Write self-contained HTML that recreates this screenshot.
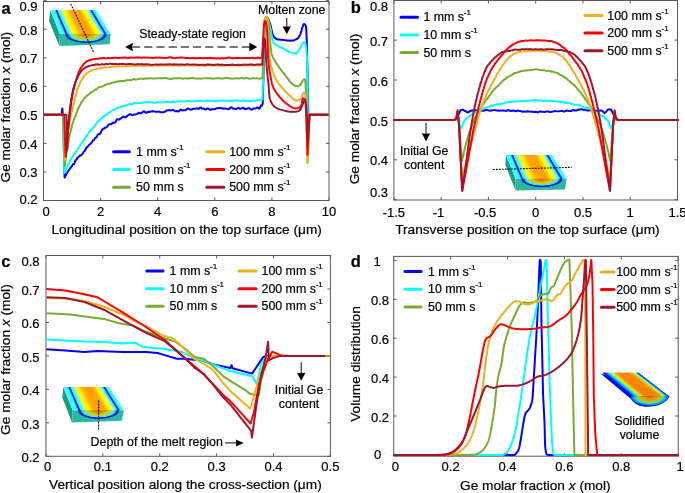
<!DOCTYPE html>
<html><head><meta charset="utf-8"><style>
html,body{margin:0;padding:0;background:#fff;}
svg{display:block;font-family:"Liberation Sans", sans-serif;will-change:transform;}
text{fill:#000;stroke:#000;stroke-width:0.2px;}
</style></head><body>
<svg width="685" height="493" viewBox="0 0 685 493">
<defs><radialGradient id="pa" gradientUnits="userSpaceOnUse" cx="86.05000000000001" cy="33.996640316205536" r="20.85" gradientTransform="translate(86.05000000000001 33.996640316205536) scale(1 0.4462043013810293) translate(-86.05000000000001 -33.996640316205536)">
<stop offset="0" stop-color="#c06a00"/><stop offset="0.28" stop-color="#e09000"/><stop offset="0.48" stop-color="#d8c810"/><stop offset="0.62" stop-color="#a0e040"/><stop offset="0.72" stop-color="#40f0d0"/><stop offset="0.8" stop-color="#20d8ff"/><stop offset="0.87" stop-color="#0040ff"/><stop offset="0.93" stop-color="#0000e0"/><stop offset="1" stop-color="#0000c0"/></radialGradient><radialGradient id="pb" gradientUnits="userSpaceOnUse" cx="541.8" cy="178.7" r="20.69999999999999" gradientTransform="translate(541.8 178.7) scale(1 0.4202898550724648) translate(-541.8 -178.7)">
<stop offset="0" stop-color="#c06a00"/><stop offset="0.28" stop-color="#e09000"/><stop offset="0.48" stop-color="#d8c810"/><stop offset="0.62" stop-color="#a0e040"/><stop offset="0.72" stop-color="#40f0d0"/><stop offset="0.8" stop-color="#20d8ff"/><stop offset="0.87" stop-color="#0040ff"/><stop offset="0.93" stop-color="#0000e0"/><stop offset="1" stop-color="#0000c0"/></radialGradient><radialGradient id="pc" gradientUnits="userSpaceOnUse" cx="98.55" cy="410.3" r="20.75" gradientTransform="translate(98.55 410.3) scale(1 0.4289156626506013) translate(-98.55 -410.3)">
<stop offset="0" stop-color="#c06a00"/><stop offset="0.28" stop-color="#e09000"/><stop offset="0.48" stop-color="#d8c810"/><stop offset="0.62" stop-color="#a0e040"/><stop offset="0.72" stop-color="#40f0d0"/><stop offset="0.8" stop-color="#20d8ff"/><stop offset="0.87" stop-color="#0040ff"/><stop offset="0.93" stop-color="#0000e0"/><stop offset="1" stop-color="#0000c0"/></radialGradient><radialGradient id="pd" gradientUnits="userSpaceOnUse" cx="649.5" cy="396.3" r="19.5" gradientTransform="translate(649.5 396.3) scale(1 0.5) translate(-649.5 -396.3)">
<stop offset="0" stop-color="#d06000"/><stop offset="0.3" stop-color="#f09000"/><stop offset="0.55" stop-color="#c0c020"/><stop offset="0.72" stop-color="#40e0a0"/><stop offset="0.85" stop-color="#00a0ff"/><stop offset="1" stop-color="#0020e0"/></radialGradient></defs>
<rect width="685" height="493" fill="#fff"/>
<line x1="393.7" y1="456.2" x2="393.7" y2="453.2" stroke="#5a5a5a" stroke-width="1"/>
<line x1="393.7" y1="256.4" x2="393.7" y2="259.4" stroke="#5a5a5a" stroke-width="1"/>
<line x1="450.6" y1="456.2" x2="450.6" y2="453.2" stroke="#5a5a5a" stroke-width="1"/>
<line x1="450.6" y1="256.4" x2="450.6" y2="259.4" stroke="#5a5a5a" stroke-width="1"/>
<line x1="507.5" y1="456.2" x2="507.5" y2="453.2" stroke="#5a5a5a" stroke-width="1"/>
<line x1="507.5" y1="256.4" x2="507.5" y2="259.4" stroke="#5a5a5a" stroke-width="1"/>
<line x1="564.4" y1="456.2" x2="564.4" y2="453.2" stroke="#5a5a5a" stroke-width="1"/>
<line x1="564.4" y1="256.4" x2="564.4" y2="259.4" stroke="#5a5a5a" stroke-width="1"/>
<line x1="621.3" y1="456.2" x2="621.3" y2="453.2" stroke="#5a5a5a" stroke-width="1"/>
<line x1="621.3" y1="256.4" x2="621.3" y2="259.4" stroke="#5a5a5a" stroke-width="1"/>
<line x1="678.2" y1="456.2" x2="678.2" y2="453.2" stroke="#5a5a5a" stroke-width="1"/>
<line x1="678.2" y1="256.4" x2="678.2" y2="259.4" stroke="#5a5a5a" stroke-width="1"/>
<line x1="393.7" y1="454.9" x2="396.7" y2="454.9" stroke="#5a5a5a" stroke-width="1"/>
<line x1="678.2" y1="454.9" x2="675.2" y2="454.9" stroke="#5a5a5a" stroke-width="1"/>
<line x1="393.7" y1="416.0" x2="396.7" y2="416.0" stroke="#5a5a5a" stroke-width="1"/>
<line x1="678.2" y1="416.0" x2="675.2" y2="416.0" stroke="#5a5a5a" stroke-width="1"/>
<line x1="393.7" y1="377.09999999999997" x2="396.7" y2="377.09999999999997" stroke="#5a5a5a" stroke-width="1"/>
<line x1="678.2" y1="377.09999999999997" x2="675.2" y2="377.09999999999997" stroke="#5a5a5a" stroke-width="1"/>
<line x1="393.7" y1="338.2" x2="396.7" y2="338.2" stroke="#5a5a5a" stroke-width="1"/>
<line x1="678.2" y1="338.2" x2="675.2" y2="338.2" stroke="#5a5a5a" stroke-width="1"/>
<line x1="393.7" y1="299.29999999999995" x2="396.7" y2="299.29999999999995" stroke="#5a5a5a" stroke-width="1"/>
<line x1="678.2" y1="299.29999999999995" x2="675.2" y2="299.29999999999995" stroke="#5a5a5a" stroke-width="1"/>
<line x1="393.7" y1="260.4" x2="396.7" y2="260.4" stroke="#5a5a5a" stroke-width="1"/>
<line x1="678.2" y1="260.4" x2="675.2" y2="260.4" stroke="#5a5a5a" stroke-width="1"/>
<rect x="393.7" y="256.4" width="284.50000000000006" height="199.8" fill="none" stroke="#5a5a5a" stroke-width="1"/>
<line x1="46.0" y1="456.3" x2="46.0" y2="453.3" stroke="#5a5a5a" stroke-width="1"/>
<line x1="46.0" y1="255.5" x2="46.0" y2="258.5" stroke="#5a5a5a" stroke-width="1"/>
<line x1="102.88" y1="456.3" x2="102.88" y2="453.3" stroke="#5a5a5a" stroke-width="1"/>
<line x1="102.88" y1="255.5" x2="102.88" y2="258.5" stroke="#5a5a5a" stroke-width="1"/>
<line x1="159.76" y1="456.3" x2="159.76" y2="453.3" stroke="#5a5a5a" stroke-width="1"/>
<line x1="159.76" y1="255.5" x2="159.76" y2="258.5" stroke="#5a5a5a" stroke-width="1"/>
<line x1="216.64" y1="456.3" x2="216.64" y2="453.3" stroke="#5a5a5a" stroke-width="1"/>
<line x1="216.64" y1="255.5" x2="216.64" y2="258.5" stroke="#5a5a5a" stroke-width="1"/>
<line x1="273.52" y1="456.3" x2="273.52" y2="453.3" stroke="#5a5a5a" stroke-width="1"/>
<line x1="273.52" y1="255.5" x2="273.52" y2="258.5" stroke="#5a5a5a" stroke-width="1"/>
<line x1="330.4" y1="456.3" x2="330.4" y2="453.3" stroke="#5a5a5a" stroke-width="1"/>
<line x1="330.4" y1="255.5" x2="330.4" y2="258.5" stroke="#5a5a5a" stroke-width="1"/>
<line x1="46.0" y1="456.3" x2="49.0" y2="456.3" stroke="#5a5a5a" stroke-width="1"/>
<line x1="330.4" y1="456.3" x2="327.4" y2="456.3" stroke="#5a5a5a" stroke-width="1"/>
<line x1="46.0" y1="422.833" x2="49.0" y2="422.833" stroke="#5a5a5a" stroke-width="1"/>
<line x1="330.4" y1="422.833" x2="327.4" y2="422.833" stroke="#5a5a5a" stroke-width="1"/>
<line x1="46.0" y1="389.366" x2="49.0" y2="389.366" stroke="#5a5a5a" stroke-width="1"/>
<line x1="330.4" y1="389.366" x2="327.4" y2="389.366" stroke="#5a5a5a" stroke-width="1"/>
<line x1="46.0" y1="355.899" x2="49.0" y2="355.899" stroke="#5a5a5a" stroke-width="1"/>
<line x1="330.4" y1="355.899" x2="327.4" y2="355.899" stroke="#5a5a5a" stroke-width="1"/>
<line x1="46.0" y1="322.432" x2="49.0" y2="322.432" stroke="#5a5a5a" stroke-width="1"/>
<line x1="330.4" y1="322.432" x2="327.4" y2="322.432" stroke="#5a5a5a" stroke-width="1"/>
<line x1="46.0" y1="288.96500000000003" x2="49.0" y2="288.96500000000003" stroke="#5a5a5a" stroke-width="1"/>
<line x1="330.4" y1="288.96500000000003" x2="327.4" y2="288.96500000000003" stroke="#5a5a5a" stroke-width="1"/>
<line x1="46.0" y1="255.49799999999996" x2="49.0" y2="255.49799999999996" stroke="#5a5a5a" stroke-width="1"/>
<line x1="330.4" y1="255.49799999999996" x2="327.4" y2="255.49799999999996" stroke="#5a5a5a" stroke-width="1"/>
<rect x="46.0" y="255.5" width="284.4" height="200.8" fill="none" stroke="#5a5a5a" stroke-width="1"/>
<line x1="393.9" y1="200.0" x2="393.9" y2="197.0" stroke="#5a5a5a" stroke-width="1"/>
<line x1="393.9" y1="0.5" x2="393.9" y2="3.5" stroke="#5a5a5a" stroke-width="1"/>
<line x1="441.16499999999996" y1="200.0" x2="441.16499999999996" y2="197.0" stroke="#5a5a5a" stroke-width="1"/>
<line x1="441.16499999999996" y1="0.5" x2="441.16499999999996" y2="3.5" stroke="#5a5a5a" stroke-width="1"/>
<line x1="488.42999999999995" y1="200.0" x2="488.42999999999995" y2="197.0" stroke="#5a5a5a" stroke-width="1"/>
<line x1="488.42999999999995" y1="0.5" x2="488.42999999999995" y2="3.5" stroke="#5a5a5a" stroke-width="1"/>
<line x1="535.6949999999999" y1="200.0" x2="535.6949999999999" y2="197.0" stroke="#5a5a5a" stroke-width="1"/>
<line x1="535.6949999999999" y1="0.5" x2="535.6949999999999" y2="3.5" stroke="#5a5a5a" stroke-width="1"/>
<line x1="582.96" y1="200.0" x2="582.96" y2="197.0" stroke="#5a5a5a" stroke-width="1"/>
<line x1="582.96" y1="0.5" x2="582.96" y2="3.5" stroke="#5a5a5a" stroke-width="1"/>
<line x1="630.2249999999999" y1="200.0" x2="630.2249999999999" y2="197.0" stroke="#5a5a5a" stroke-width="1"/>
<line x1="630.2249999999999" y1="0.5" x2="630.2249999999999" y2="3.5" stroke="#5a5a5a" stroke-width="1"/>
<line x1="677.49" y1="200.0" x2="677.49" y2="197.0" stroke="#5a5a5a" stroke-width="1"/>
<line x1="677.49" y1="0.5" x2="677.49" y2="3.5" stroke="#5a5a5a" stroke-width="1"/>
<line x1="393.9" y1="199.70000000000002" x2="396.9" y2="199.70000000000002" stroke="#5a5a5a" stroke-width="1"/>
<line x1="677.5" y1="199.70000000000002" x2="674.5" y2="199.70000000000002" stroke="#5a5a5a" stroke-width="1"/>
<line x1="393.9" y1="159.8" x2="396.9" y2="159.8" stroke="#5a5a5a" stroke-width="1"/>
<line x1="677.5" y1="159.8" x2="674.5" y2="159.8" stroke="#5a5a5a" stroke-width="1"/>
<line x1="393.9" y1="119.9" x2="396.9" y2="119.9" stroke="#5a5a5a" stroke-width="1"/>
<line x1="677.5" y1="119.9" x2="674.5" y2="119.9" stroke="#5a5a5a" stroke-width="1"/>
<line x1="393.9" y1="80.00000000000001" x2="396.9" y2="80.00000000000001" stroke="#5a5a5a" stroke-width="1"/>
<line x1="677.5" y1="80.00000000000001" x2="674.5" y2="80.00000000000001" stroke="#5a5a5a" stroke-width="1"/>
<line x1="393.9" y1="40.10000000000002" x2="396.9" y2="40.10000000000002" stroke="#5a5a5a" stroke-width="1"/>
<line x1="677.5" y1="40.10000000000002" x2="674.5" y2="40.10000000000002" stroke="#5a5a5a" stroke-width="1"/>
<line x1="393.9" y1="0.19999999999998863" x2="396.9" y2="0.19999999999998863" stroke="#5a5a5a" stroke-width="1"/>
<line x1="677.5" y1="0.19999999999998863" x2="674.5" y2="0.19999999999998863" stroke="#5a5a5a" stroke-width="1"/>
<rect x="393.9" y="0.5" width="283.6" height="199.5" fill="none" stroke="#5a5a5a" stroke-width="1"/>
<line x1="43.5" y1="200.5" x2="43.5" y2="197.5" stroke="#5a5a5a" stroke-width="1"/>
<line x1="43.5" y1="1.5" x2="43.5" y2="4.5" stroke="#5a5a5a" stroke-width="1"/>
<line x1="100.6" y1="200.5" x2="100.6" y2="197.5" stroke="#5a5a5a" stroke-width="1"/>
<line x1="100.6" y1="1.5" x2="100.6" y2="4.5" stroke="#5a5a5a" stroke-width="1"/>
<line x1="157.7" y1="200.5" x2="157.7" y2="197.5" stroke="#5a5a5a" stroke-width="1"/>
<line x1="157.7" y1="1.5" x2="157.7" y2="4.5" stroke="#5a5a5a" stroke-width="1"/>
<line x1="214.8" y1="200.5" x2="214.8" y2="197.5" stroke="#5a5a5a" stroke-width="1"/>
<line x1="214.8" y1="1.5" x2="214.8" y2="4.5" stroke="#5a5a5a" stroke-width="1"/>
<line x1="271.9" y1="200.5" x2="271.9" y2="197.5" stroke="#5a5a5a" stroke-width="1"/>
<line x1="271.9" y1="1.5" x2="271.9" y2="4.5" stroke="#5a5a5a" stroke-width="1"/>
<line x1="329.0" y1="200.5" x2="329.0" y2="197.5" stroke="#5a5a5a" stroke-width="1"/>
<line x1="329.0" y1="1.5" x2="329.0" y2="4.5" stroke="#5a5a5a" stroke-width="1"/>
<line x1="43.5" y1="200.5" x2="46.5" y2="200.5" stroke="#5a5a5a" stroke-width="1"/>
<line x1="329.0" y1="200.5" x2="326.0" y2="200.5" stroke="#5a5a5a" stroke-width="1"/>
<line x1="43.5" y1="171.95000000000002" x2="46.5" y2="171.95000000000002" stroke="#5a5a5a" stroke-width="1"/>
<line x1="329.0" y1="171.95000000000002" x2="326.0" y2="171.95000000000002" stroke="#5a5a5a" stroke-width="1"/>
<line x1="43.5" y1="143.4" x2="46.5" y2="143.4" stroke="#5a5a5a" stroke-width="1"/>
<line x1="329.0" y1="143.4" x2="326.0" y2="143.4" stroke="#5a5a5a" stroke-width="1"/>
<line x1="43.5" y1="114.85000000000001" x2="46.5" y2="114.85000000000001" stroke="#5a5a5a" stroke-width="1"/>
<line x1="329.0" y1="114.85000000000001" x2="326.0" y2="114.85000000000001" stroke="#5a5a5a" stroke-width="1"/>
<line x1="43.5" y1="86.30000000000001" x2="46.5" y2="86.30000000000001" stroke="#5a5a5a" stroke-width="1"/>
<line x1="329.0" y1="86.30000000000001" x2="326.0" y2="86.30000000000001" stroke="#5a5a5a" stroke-width="1"/>
<line x1="43.5" y1="57.75000000000003" x2="46.5" y2="57.75000000000003" stroke="#5a5a5a" stroke-width="1"/>
<line x1="329.0" y1="57.75000000000003" x2="326.0" y2="57.75000000000003" stroke="#5a5a5a" stroke-width="1"/>
<line x1="43.5" y1="29.19999999999999" x2="46.5" y2="29.19999999999999" stroke="#5a5a5a" stroke-width="1"/>
<line x1="329.0" y1="29.19999999999999" x2="326.0" y2="29.19999999999999" stroke="#5a5a5a" stroke-width="1"/>
<line x1="43.5" y1="0.6500000000000057" x2="46.5" y2="0.6500000000000057" stroke="#5a5a5a" stroke-width="1"/>
<line x1="329.0" y1="0.6500000000000057" x2="326.0" y2="0.6500000000000057" stroke="#5a5a5a" stroke-width="1"/>
<rect x="43.5" y="1.5" width="285.5" height="199.0" fill="none" stroke="#5a5a5a" stroke-width="1"/>
<text x="1.5" y="13.5" font-size="16.5" text-anchor="start" font-weight="bold" >a</text>
<polyline points="43.50,114.85 61.60,114.85 62.30,108.40 63.00,116.85 64.60,177.50 64.60,177.50 65.07,176.64 65.53,175.78 65.97,174.93 66.43,174.08 66.91,173.21 67.43,172.32 68.00,171.40 68.45,170.70 68.94,169.98 69.45,169.24 69.98,168.48 70.53,167.75 71.09,167.08 71.67,166.50 72.24,165.50 72.82,164.51 73.39,164.29 73.95,164.18 74.50,163.12 75.08,161.34 75.65,160.12 76.22,159.79 76.78,159.04 77.35,157.90 77.92,157.45 78.51,156.92 79.12,156.27 79.74,155.83 80.40,155.41 80.97,155.32 81.55,154.83 82.16,154.07 82.78,153.28 83.41,152.14 84.06,151.52 84.72,151.07 85.38,149.81 86.05,148.35 86.72,147.37 87.39,146.93 88.07,146.28 88.73,145.24 89.40,144.56 90.05,144.17 90.70,143.68 91.34,142.96 91.97,141.90 92.60,140.77 93.22,140.20 93.85,140.15 94.47,139.23 95.09,137.91 95.72,137.76 96.34,137.43 96.98,136.19 97.61,134.87 98.25,134.14 98.90,134.28 99.56,134.22 100.22,133.47 100.90,132.30 101.65,130.64 102.41,129.28 103.17,129.04 103.95,128.60 104.73,127.65 105.52,127.47 106.31,127.45 107.11,126.60 107.91,125.35 108.71,124.69 109.51,124.24 110.30,124.15 111.10,124.35 111.94,123.62 112.78,122.77 113.62,122.59 114.46,122.75 115.30,122.36 116.15,120.71 117.00,119.16 117.85,119.23 118.70,119.71 119.56,119.16 120.43,118.60 121.30,118.23 122.21,117.05 123.12,116.64 124.04,117.05 124.96,117.19 125.89,117.21 126.83,116.33 127.76,115.27 128.69,114.78 129.63,114.20 130.57,114.18 131.50,114.84 132.42,115.25 133.34,114.86 134.27,114.41 135.19,114.42 136.12,114.32 137.05,114.07 137.98,113.28 138.90,112.71 139.84,113.17 140.77,113.45 141.70,112.89 142.63,112.00 143.57,111.33 144.50,111.51 145.44,112.50 146.38,112.87 147.31,112.14 148.25,111.84 149.19,112.00 150.13,111.51 151.07,111.54 152.00,111.57 152.93,111.06 153.86,111.36 154.79,111.64 155.71,111.63 156.64,111.71 157.57,111.86 158.49,111.75 159.42,111.63 160.35,112.12 161.27,112.29 162.20,112.19 163.13,112.24 164.05,112.10 164.98,111.80 165.91,111.01 166.84,110.35 167.76,110.42 168.69,110.22 169.62,110.11 170.55,110.54 171.47,110.38 172.40,109.88 173.32,110.03 174.22,110.64 175.11,111.18 176.00,111.28 176.88,111.04 177.78,111.25 178.69,111.56 179.62,110.56 180.58,109.56 181.57,110.18 182.60,110.58 183.45,110.33 184.30,110.26 185.18,110.18 186.06,109.91 186.97,109.10 187.88,108.54 188.81,108.81 189.76,109.32 190.72,109.67 191.69,109.49 192.68,109.03 193.68,108.68 194.69,108.68 195.73,108.59 196.77,108.37 197.83,108.74 198.91,108.67 200.00,107.68 200.85,107.50 201.71,108.43 202.59,108.67 203.49,108.40 204.41,108.98 205.34,109.60 206.28,109.20 207.23,108.39 208.20,108.41 209.17,109.39 210.15,109.84 211.15,109.47 212.14,109.20 213.15,109.24 214.16,109.24 215.17,109.03 216.18,108.37 217.20,108.14 218.21,108.32 219.23,107.89 220.24,108.00 221.25,108.23 222.25,108.23 223.25,108.64 224.24,108.58 225.23,108.50 226.20,108.66 227.17,108.86 228.13,109.28 229.07,109.01 230.00,107.96 231.01,107.17 232.04,107.72 233.08,108.80 234.14,108.78 235.20,108.87 236.26,109.06 237.33,108.27 238.40,107.93 239.47,108.44 240.53,108.71 241.59,108.38 242.64,107.86 243.67,107.97 244.69,108.92 245.70,109.22 246.69,108.76 247.65,108.39 248.60,108.01 249.51,108.50 250.40,109.29 251.26,109.64 252.08,109.59 252.87,108.87 253.62,108.52 254.33,108.58 255.00,108.53 256.21,108.10 257.34,107.41 258.39,107.88 259.33,108.73 260.17,107.35 260.90,105.56 261.50,105.47 262.03,105.58 262.33,104.75 262.54,103.86 262.80,103.00 262.80,103.00 264.80,22.00 264.80,22.00 265.12,21.01 265.42,19.94 265.75,19.03 266.20,18.50 267.08,18.48 268.00,19.01 268.44,19.55 268.82,20.32 269.18,21.14 269.52,22.07 269.85,23.24 270.20,24.44 270.45,25.16 270.68,25.78 270.91,26.61 271.13,27.71 271.35,28.73 271.57,29.66 271.80,30.75 272.04,31.80 272.29,32.78 272.57,33.75 272.87,34.65 273.20,35.50 273.72,36.46 274.26,37.25 274.85,37.92 275.51,38.42 276.30,38.96 277.01,39.35 277.81,39.46 278.68,39.46 279.59,39.52 280.54,39.69 281.50,39.79 282.46,39.79 283.40,39.90 284.29,40.10 285.21,40.28 286.15,40.39 287.09,40.42 288.03,40.42 288.96,40.53 289.85,40.75 290.70,40.71 291.50,40.53 292.53,40.56 293.49,40.50 294.41,40.15 295.27,39.69 296.10,39.27 296.79,39.03 297.44,38.67 298.06,38.06 298.65,37.27 299.19,36.31 299.70,35.37 300.11,34.68 300.48,33.84 300.80,32.80 301.09,31.91 301.37,31.04 301.64,29.99 301.91,28.89 302.20,28.02 302.56,27.00 302.89,26.02 303.23,25.22 303.60,24.43 304.00,23.99 304.77,24.29 305.50,25.26 305.73,25.79 305.90,26.27 306.04,26.84 306.14,27.67 306.22,28.58 306.28,29.56 306.32,30.60 306.35,31.68 306.39,32.78 306.44,33.89 306.50,35.00 306.55,35.79 306.59,36.61 306.64,37.45 306.68,38.31 306.71,39.21 306.75,40.12 306.78,41.05 306.81,42.00 306.84,42.97 306.87,43.95 306.90,44.95 306.92,45.96 306.95,46.99 306.97,48.02 306.99,49.06 307.02,50.11 307.04,51.17 307.06,52.23 307.08,53.29 307.10,54.36 307.13,55.42 307.15,56.48 307.17,57.54 307.20,58.60 307.22,59.52 307.24,60.44 307.26,61.37 307.29,62.31 307.31,63.26 307.33,64.21 307.35,65.17 307.37,66.14 307.38,67.11 307.40,68.08 307.42,69.06 307.44,70.05 307.46,71.04 307.48,72.03 307.50,73.02 307.51,74.02 307.53,75.02 307.55,76.02 307.57,77.02 307.58,78.03 307.60,79.03 307.62,80.04 307.64,81.04 307.66,82.05 307.67,83.05 307.69,84.05 307.71,85.05 307.73,86.04 307.74,87.04 307.76,88.03 307.78,89.02 307.80,90.00 307.80,90.00 308.30,114.85 328.50,114.85" fill="none" stroke="#0000ff" stroke-width="2.0" stroke-linejoin="round" stroke-linecap="butt" />
<polyline points="43.50,114.85 62.80,114.85 64.40,173.00 64.40,173.00 64.81,172.11 65.20,171.22 65.59,170.34 65.98,169.45 66.36,168.57 66.74,167.68 67.13,166.80 67.52,165.91 67.92,165.02 68.34,164.13 68.77,163.23 69.23,162.33 69.70,161.42 70.20,160.50 70.65,159.71 71.12,158.91 71.60,158.11 72.10,157.29 72.61,156.48 73.13,155.66 73.67,154.84 74.22,154.01 74.77,153.19 75.33,152.53 75.89,151.79 76.46,150.73 77.03,149.73 77.60,149.16 78.17,148.38 78.73,147.41 79.29,146.72 79.85,145.98 80.40,145.11 80.96,144.28 81.53,143.39 82.09,142.40 82.65,141.52 83.22,140.80 83.78,140.12 84.35,139.25 84.92,138.24 85.49,137.33 86.06,136.61 86.63,135.89 87.20,135.23 87.78,134.72 88.36,133.63 88.94,132.07 89.52,131.26 90.11,130.95 90.70,130.41 91.32,129.75 91.94,129.26 92.56,128.56 93.18,127.36 93.81,126.68 94.44,126.40 95.07,125.61 95.70,124.60 96.33,123.48 96.97,122.58 97.62,122.16 98.26,121.51 98.92,120.59 99.57,119.97 100.23,119.43 100.90,118.77 101.65,118.20 102.41,117.66 103.18,116.95 103.95,116.30 104.73,115.90 105.51,115.41 106.30,114.60 107.09,113.87 107.88,113.39 108.68,112.90 109.48,112.33 110.29,111.75 111.10,111.38 111.93,110.77 112.76,110.03 113.60,109.70 114.44,109.48 115.29,109.02 116.14,108.35 116.99,107.95 117.85,107.79 118.71,107.52 119.57,107.32 120.44,106.92 121.30,106.34 122.21,106.30 123.13,106.27 124.06,105.70 124.98,105.33 125.91,105.33 126.84,105.24 127.77,104.97 128.70,104.43 129.63,103.99 130.57,103.94 131.50,103.97 132.41,103.97 133.30,103.61 134.18,103.03 135.05,103.01 135.93,103.37 136.81,103.28 137.72,102.92 138.66,102.86 139.63,102.93 140.64,102.94 141.70,102.88 142.52,102.69 143.37,102.48 144.25,102.51 145.16,102.38 146.09,102.00 147.04,102.11 148.01,102.20 148.99,102.09 149.99,102.20 151.00,102.35 152.02,102.47 153.04,102.50 154.07,102.64 155.11,102.76 156.14,102.49 157.17,102.04 158.19,102.12 159.21,102.56 160.22,102.43 161.22,102.17 162.20,102.23 163.17,102.34 164.15,102.42 165.13,102.31 166.11,102.10 167.10,102.03 168.08,102.01 169.06,101.96 170.05,102.22 171.03,102.22 172.01,101.49 172.99,101.24 173.97,102.00 174.95,102.34 175.92,101.69 176.89,101.40 177.86,101.58 178.82,101.46 179.77,101.36 180.72,101.49 181.66,101.57 182.60,101.50 183.59,101.46 184.57,101.33 185.53,101.15 186.47,101.10 187.40,101.09 188.33,101.08 189.25,100.90 190.17,101.04 191.09,101.42 192.02,101.34 192.95,101.21 193.90,101.20 194.86,101.05 195.84,101.04 196.84,101.17 197.87,101.02 198.92,100.89 200.00,100.99 200.85,100.83 201.71,100.56 202.59,100.59 203.49,100.93 204.41,101.12 205.34,100.85 206.28,100.56 207.23,100.43 208.20,100.74 209.17,101.04 210.16,100.83 211.15,100.70 212.15,100.90 213.15,101.08 214.16,101.27 215.17,101.35 216.18,101.00 217.20,100.67 218.21,100.68 219.23,100.76 220.24,100.78 221.25,100.79 222.25,100.60 223.25,100.48 224.24,100.67 225.23,100.56 226.20,100.47 227.17,100.88 228.13,101.14 229.07,100.98 230.00,100.69 231.01,100.83 232.04,101.33 233.07,101.09 234.12,100.45 235.17,100.41 236.23,100.47 237.28,100.40 238.34,100.55 239.40,100.80 240.45,101.09 241.50,100.82 242.53,100.29 243.56,100.32 244.57,100.57 245.57,100.89 246.56,101.03 247.52,100.83 248.46,100.83 249.38,101.32 250.28,101.33 251.15,100.80 251.98,100.64 252.79,100.61 253.56,100.46 254.30,100.57 255.00,100.77 256.15,100.46 257.19,100.26 258.14,100.25 259.03,99.98 259.88,99.76 260.73,99.62 261.59,99.55 262.50,99.50 262.50,99.00 264.80,22.00 264.80,22.00 265.13,20.98 265.44,19.87 265.78,18.95 266.20,18.50 266.77,18.65 267.41,19.23 268.00,20.00 268.34,20.61 268.65,21.35 268.92,22.19 269.19,23.12 269.44,24.12 269.68,25.16 269.94,26.23 270.20,27.30 270.39,28.13 270.58,29.03 270.75,30.00 270.92,31.01 271.09,32.06 271.25,33.13 271.42,34.20 271.59,35.28 271.78,36.33 271.97,37.35 272.18,38.32 272.40,39.24 272.64,40.08 272.91,40.84 273.20,41.50 273.72,42.42 274.27,43.17 274.87,43.80 275.53,44.39 276.30,45.00 277.02,45.50 277.82,45.97 278.69,46.42 279.60,46.86 280.55,47.29 281.51,47.72 282.47,48.15 283.40,48.60 284.20,49.01 285.02,49.45 285.85,49.90 286.69,50.36 287.54,50.82 288.37,51.26 289.20,51.67 290.00,52.03 290.77,52.35 291.50,52.60 292.50,52.91 293.47,53.18 294.40,53.36 295.28,53.39 296.10,53.20 296.80,52.79 297.45,52.18 298.06,51.42 298.64,50.57 299.18,49.71 299.70,48.90 300.18,48.09 300.61,47.23 301.01,46.35 301.40,45.49 301.79,44.69 302.20,44.00 302.81,43.05 303.42,42.24 304.00,41.90 304.54,42.23 305.06,43.02 305.50,44.00 305.71,44.64 305.87,45.39 306.00,46.23 306.11,47.13 306.20,48.08 306.27,49.06 306.34,50.06 306.42,51.04 306.50,52.00 306.58,52.87 306.65,53.75 306.72,54.65 306.79,55.55 306.85,56.47 306.91,57.39 306.96,58.32 307.02,59.24 307.08,60.17 307.14,61.09 307.20,62.00 307.20,62.00 307.80,114.85 328.50,114.85" fill="none" stroke="#00ffff" stroke-width="2.0" stroke-linejoin="round" stroke-linecap="butt" />
<polyline points="43.50,114.85 63.30,114.85 64.70,165.50 64.70,165.50 64.84,164.53 64.98,163.56 65.12,162.60 65.26,161.63 65.40,160.66 65.53,159.70 65.67,158.73 65.81,157.76 65.95,156.79 66.09,155.83 66.23,154.86 66.38,153.89 66.53,152.92 66.68,151.95 66.84,150.97 67.00,150.00 67.16,149.06 67.32,148.11 67.48,147.15 67.65,146.18 67.82,145.21 67.99,144.24 68.17,143.27 68.35,142.30 68.52,141.34 68.70,140.38 68.89,139.43 69.07,138.49 69.25,137.56 69.44,136.64 69.63,135.74 69.81,134.86 70.00,134.00 70.22,133.00 70.44,132.02 70.66,131.05 70.89,130.10 71.11,129.17 71.34,128.25 71.57,127.34 71.80,126.45 72.04,125.57 72.29,124.70 72.54,123.84 72.80,123.00 73.11,122.04 73.44,121.10 73.78,120.18 74.13,119.27 74.48,118.38 74.82,117.51 75.16,116.66 75.49,115.82 75.80,115.00 76.11,114.14 76.40,113.30 76.68,112.49 76.96,111.69 77.25,110.90 77.56,110.11 77.90,109.30 78.29,108.43 78.71,107.56 79.15,106.68 79.61,105.80 80.07,104.93 80.54,103.98 81.00,102.92 81.48,102.13 81.94,101.91 82.42,101.28 82.91,100.28 83.43,99.57 84.00,98.78 84.64,98.00 85.33,97.40 86.05,96.63 86.79,95.80 87.54,95.19 88.30,94.70 88.96,94.24 89.62,93.66 90.30,93.05 90.98,92.46 91.68,92.00 92.38,91.68 93.10,91.25 93.85,90.74 94.60,90.15 95.37,89.59 96.15,89.48 96.95,89.10 97.76,88.04 98.60,87.24 99.44,87.09 100.32,87.10 101.22,86.87 102.14,86.55 103.05,86.13 103.96,85.62 104.85,85.19 105.70,84.88 106.62,84.51 107.49,83.98 108.34,83.72 109.21,83.82 110.12,83.68 111.10,83.02 111.91,82.53 112.76,82.53 113.64,82.54 114.55,82.38 115.48,82.03 116.43,81.62 117.39,81.69 118.35,81.52 119.33,81.00 120.30,81.01 121.20,81.14 122.11,81.00 123.05,81.11 124.00,81.18 124.96,80.77 125.92,80.33 126.88,80.26 127.84,80.35 128.78,80.25 129.71,80.11 130.62,80.12 131.50,80.01 132.47,79.57 133.37,79.08 134.23,79.08 135.07,79.45 135.93,79.59 136.82,79.47 137.78,79.10 138.83,78.80 140.00,78.81 140.69,78.66 141.40,78.36 142.15,78.54 142.92,78.93 143.71,78.88 144.53,78.66 145.38,78.46 146.25,78.44 147.14,78.60 148.05,78.47 148.98,78.29 149.93,78.26 150.89,78.27 151.87,78.50 152.87,78.59 153.88,78.51 154.91,78.56 155.94,78.45 156.99,78.30 158.05,78.24 159.11,78.30 160.18,78.36 161.26,78.27 162.35,78.17 163.44,78.13 164.53,78.03 165.62,77.99 166.72,78.25 167.81,78.56 168.91,78.69 170.00,78.87 170.86,78.98 171.73,78.65 172.62,78.51 173.51,78.60 174.41,78.45 175.33,78.37 176.25,78.31 177.18,78.15 178.12,78.10 179.06,78.33 180.02,78.32 180.98,78.32 181.94,78.68 182.92,78.69 183.90,78.37 184.88,78.21 185.88,78.26 186.87,78.40 187.87,78.57 188.88,78.53 189.89,78.26 190.90,78.14 191.91,78.07 192.93,77.99 193.95,78.11 194.97,78.36 195.99,78.63 197.02,78.63 198.04,78.40 199.07,78.36 200.09,78.55 201.12,78.75 202.14,78.63 203.16,78.39 204.18,78.17 205.20,78.15 206.22,78.31 207.23,78.37 208.25,78.27 209.25,78.19 210.26,78.28 211.26,78.46 212.25,78.63 213.24,78.63 214.23,78.45 215.20,78.28 216.18,78.26 217.14,78.22 218.10,78.22 219.06,78.33 220.00,78.37 221.03,78.49 222.05,78.64 223.07,78.59 224.09,78.31 225.10,78.03 226.11,78.07 227.12,78.06 228.12,78.02 229.12,78.30 230.12,78.39 231.12,78.40 232.11,78.61 233.10,78.63 234.09,78.39 235.08,78.23 236.07,78.37 237.05,78.38 238.03,78.33 239.02,78.53 240.00,78.37 240.98,78.03 241.95,78.06 242.93,78.22 243.91,78.53 244.89,78.51 245.86,78.12 246.84,78.06 247.81,78.25 248.79,78.45 249.76,78.69 250.74,78.60 251.71,78.40 252.69,78.21 253.66,78.00 254.64,78.27 255.62,78.50 256.60,78.29 257.58,78.21 258.56,78.55 259.54,78.78 260.53,78.43 261.51,78.10 262.50,78.30 262.50,78.30 264.60,20.00 264.60,20.00 264.93,19.08 265.24,18.07 265.58,17.23 266.00,16.80 266.57,16.86 267.22,17.28 267.80,18.00 268.00,18.41 268.19,18.92 268.35,19.54 268.50,20.24 268.63,21.02 268.75,21.87 268.86,22.79 268.96,23.77 269.04,24.80 269.12,25.87 269.19,26.97 269.26,28.10 269.32,29.25 269.37,30.41 269.43,31.57 269.49,32.72 269.55,33.87 269.61,34.99 269.67,36.08 269.74,37.13 269.82,38.14 269.90,39.10 270.00,40.00 270.12,41.03 270.22,42.07 270.32,43.10 270.42,44.13 270.52,45.15 270.61,46.17 270.71,47.17 270.81,48.15 270.92,49.11 271.04,50.05 271.16,50.97 271.30,51.85 271.45,52.69 271.61,53.50 271.80,54.27 272.00,55.00 272.32,55.97 272.67,56.83 273.04,57.62 273.43,58.36 273.86,59.10 274.31,59.87 274.80,60.70 275.23,61.42 275.69,62.17 276.17,62.94 276.68,63.73 277.21,64.52 277.76,65.32 278.31,66.12 278.86,66.91 279.42,67.69 279.96,68.46 280.50,69.20 281.05,69.95 281.60,70.68 282.16,71.39 282.72,72.10 283.28,72.81 283.84,73.50 284.41,74.20 284.97,74.90 285.54,75.59 286.10,76.30 286.66,77.03 287.22,77.78 287.77,78.56 288.32,79.33 288.87,80.10 289.43,80.85 290.00,81.56 290.58,82.23 291.18,82.85 291.80,83.40 292.59,84.01 293.42,84.60 294.28,85.14 295.15,85.61 295.99,85.98 296.78,86.22 297.50,86.30 298.31,86.18 299.05,85.86 299.74,85.38 300.40,84.80 300.94,84.12 301.43,83.25 301.89,82.28 302.33,81.33 302.76,80.50 303.20,79.90 303.94,79.26 304.60,79.10 304.87,79.45 305.07,80.14 305.22,81.05 305.34,82.07 305.45,83.09 305.60,84.00 305.60,84.00 306.60,114.85 307.50,162.80 308.50,140.00 309.50,114.85 328.50,114.85" fill="none" stroke="#77ac30" stroke-width="2.0" stroke-linejoin="round" stroke-linecap="butt" />
<polyline points="43.50,114.85 63.80,114.85 65.00,160.00 65.00,160.00 65.11,159.05 65.22,158.09 65.33,157.12 65.44,156.16 65.55,155.19 65.66,154.22 65.77,153.25 65.88,152.28 66.00,151.31 66.11,150.34 66.22,149.38 66.33,148.42 66.44,147.46 66.55,146.50 66.66,145.55 66.77,144.61 66.87,143.67 66.98,142.74 67.09,141.82 67.19,140.90 67.30,140.00 67.41,139.01 67.53,138.01 67.64,137.02 67.74,136.03 67.85,135.04 67.95,134.06 68.06,133.09 68.16,132.12 68.27,131.16 68.37,130.22 68.48,129.28 68.59,128.36 68.71,127.45 68.82,126.56 68.94,125.69 69.07,124.83 69.20,124.00 69.36,123.02 69.53,122.07 69.70,121.15 69.88,120.26 70.05,119.39 70.24,118.53 70.42,117.67 70.61,116.82 70.80,115.96 71.00,115.09 71.20,114.20 71.41,113.28 71.63,112.36 71.85,111.43 72.08,110.51 72.31,109.58 72.54,108.66 72.77,107.73 73.01,106.80 73.24,105.87 73.47,104.93 73.70,104.00 73.93,103.05 74.14,102.09 74.36,101.13 74.57,100.17 74.79,99.20 75.00,98.24 75.22,97.28 75.45,96.32 75.69,95.37 75.94,94.43 76.20,93.50 76.46,92.61 76.74,91.71 77.01,90.81 77.30,89.91 77.59,89.02 77.89,88.14 78.20,87.28 78.52,86.43 78.84,85.59 79.16,84.78 79.50,84.00 79.90,83.10 80.31,82.23 80.72,81.37 81.15,80.54 81.58,79.74 82.04,78.96 82.51,78.22 83.00,77.50 83.60,76.69 84.21,75.92 84.85,75.19 85.52,74.49 86.23,73.83 87.00,73.20 87.67,72.71 88.38,72.24 89.12,71.79 89.89,71.36 90.68,70.96 91.50,70.58 92.34,70.23 93.20,69.90 94.00,69.63 94.81,69.38 95.65,69.17 96.50,68.97 97.37,68.79 98.26,68.62 99.17,68.46 100.10,68.42 101.04,67.96 102.00,67.83 102.89,67.77 103.79,67.60 104.70,67.38 105.61,67.14 106.54,67.11 107.49,67.35 108.46,67.60 109.45,67.30 110.46,66.89 111.50,66.74 112.57,66.57 113.67,66.44 114.80,66.50 115.61,66.57 116.44,66.56 117.29,66.55 118.15,66.44 119.03,66.46 119.92,66.59 120.82,66.43 121.74,66.19 122.67,66.18 123.61,66.38 124.56,66.45 125.53,66.20 126.51,66.10 127.49,66.12 128.49,65.95 129.50,65.97 130.51,66.14 131.54,66.13 132.57,66.05 133.61,65.82 134.66,65.61 135.72,65.75 136.78,65.67 137.85,65.54 138.92,65.79 140.00,65.89 140.86,65.69 141.73,65.57 142.60,65.67 143.48,65.84 144.35,65.99 145.23,65.94 146.12,65.87 147.00,65.85 147.90,65.66 148.79,65.56 149.69,65.72 150.60,65.76 151.51,65.59 152.43,65.52 153.35,65.41 154.28,65.31 155.21,65.56 156.15,65.61 157.10,65.39 158.05,65.41 159.01,65.50 159.98,65.47 160.96,65.26 161.94,65.33 162.93,65.69 163.92,65.63 164.93,65.28 165.95,65.34 166.97,65.52 168.00,65.60 169.04,65.65 170.09,65.51 171.15,65.42 172.22,65.51 173.30,65.66 174.39,65.60 175.49,65.33 176.60,65.35 177.72,65.69 178.86,65.80 180.00,65.75 180.82,65.75 181.65,65.58 182.48,65.36 183.33,65.26 184.18,65.41 185.04,65.52 185.90,65.32 186.78,65.25 187.66,65.40 188.55,65.52 189.44,65.48 190.35,65.19 191.25,65.11 192.17,65.42 193.09,65.70 194.02,65.68 194.95,65.52 195.89,65.44 196.84,65.45 197.79,65.50 198.75,65.49 199.71,65.40 200.68,65.40 201.65,65.48 202.63,65.53 203.61,65.71 204.60,65.95 205.59,65.97 206.58,65.62 207.58,65.22 208.59,65.18 209.59,65.36 210.60,65.30 211.62,65.22 212.63,65.52 213.65,65.58 214.68,65.24 215.70,65.12 216.73,65.24 217.76,65.42 218.80,65.68 219.83,65.77 220.87,65.61 221.91,65.54 222.95,65.64 223.99,65.75 225.04,65.77 226.08,65.60 227.13,65.35 228.18,65.25 229.23,65.40 230.28,65.63 231.33,65.61 232.38,65.39 233.43,65.36 234.48,65.40 235.53,65.28 236.58,65.26 237.63,65.60 238.68,65.80 239.73,65.52 240.77,65.23 241.82,65.10 242.87,65.17 243.91,65.46 244.95,65.58 245.99,65.50 247.03,65.47 248.07,65.46 249.11,65.33 250.14,65.16 251.17,65.24 252.20,65.33 253.22,65.26 254.24,65.22 255.26,65.22 256.28,65.36 257.29,65.48 258.30,65.40 259.31,65.41 260.31,65.56 261.31,65.56 262.30,65.40 262.30,65.40 264.50,20.00 264.50,20.00 264.85,19.05 265.21,17.99 265.56,17.14 265.90,16.80 266.18,17.02 266.46,17.59 266.74,18.45 267.00,19.52 267.26,20.73 267.50,22.00 267.59,22.56 267.68,23.18 267.76,23.85 267.84,24.57 267.91,25.34 267.97,26.16 268.03,27.02 268.09,27.92 268.14,28.86 268.19,29.83 268.24,30.83 268.28,31.86 268.33,32.92 268.37,33.99 268.41,35.09 268.44,36.21 268.48,37.34 268.52,38.48 268.56,39.63 268.59,40.79 268.63,41.95 268.67,43.10 268.71,44.26 268.76,45.41 268.80,46.55 268.85,47.68 268.91,48.80 268.96,49.89 269.02,50.97 269.09,52.03 269.15,53.06 269.23,54.06 269.31,55.03 269.39,55.96 269.48,56.86 269.58,57.72 269.69,58.53 269.80,59.30 269.99,60.46 270.18,61.58 270.38,62.66 270.59,63.70 270.81,64.70 271.03,65.68 271.27,66.63 271.50,67.55 271.75,68.45 272.01,69.33 272.27,70.19 272.54,71.03 272.82,71.86 273.10,72.68 273.40,73.50 273.77,74.46 274.14,75.39 274.52,76.28 274.92,77.15 275.33,77.99 275.75,78.82 276.18,79.63 276.64,80.42 277.11,81.21 277.60,82.00 278.10,82.76 278.62,83.50 279.16,84.23 279.72,84.94 280.29,85.65 280.87,86.34 281.46,87.03 282.07,87.72 282.68,88.41 283.30,89.10 283.90,89.77 284.53,90.44 285.16,91.12 285.81,91.80 286.47,92.47 287.13,93.14 287.80,93.79 288.46,94.43 289.12,95.05 289.76,95.64 290.40,96.20 291.13,96.86 291.85,97.54 292.57,98.23 293.29,98.88 294.00,99.46 294.71,99.94 295.41,100.30 296.10,100.50 297.00,100.53 297.90,100.37 298.79,100.04 299.63,99.57 300.40,99.00 300.95,98.36 301.45,97.47 301.92,96.44 302.35,95.37 302.76,94.35 303.15,93.48 303.53,92.86 303.90,92.60 304.62,93.10 305.30,94.00 305.30,94.00 306.40,114.85 307.50,162.40 308.50,140.00 309.50,114.85 328.50,114.85" fill="none" stroke="#edb120" stroke-width="2.0" stroke-linejoin="round" stroke-linecap="butt" />
<polyline points="43.50,114.85 64.20,114.85 65.60,156.80 65.60,156.80 65.69,155.81 65.77,154.80 65.86,153.79 65.95,152.78 66.03,151.76 66.12,150.74 66.20,149.72 66.29,148.70 66.38,147.68 66.46,146.66 66.55,145.64 66.63,144.63 66.72,143.63 66.81,142.63 66.89,141.63 66.98,140.65 67.07,139.68 67.15,138.72 67.24,137.77 67.33,136.83 67.41,135.91 67.50,135.00 67.60,133.99 67.70,132.99 67.80,132.02 67.89,131.06 67.99,130.12 68.09,129.19 68.19,128.27 68.28,127.35 68.38,126.44 68.48,125.54 68.58,124.63 68.68,123.72 68.79,122.80 68.89,121.88 68.99,120.95 69.10,120.00 69.20,119.07 69.31,118.13 69.41,117.19 69.52,116.24 69.62,115.29 69.73,114.33 69.83,113.38 69.94,112.42 70.05,111.47 70.16,110.51 70.27,109.56 70.39,108.62 70.51,107.68 70.62,106.75 70.75,105.82 70.87,104.91 71.00,104.00 71.15,102.99 71.29,101.99 71.44,101.00 71.59,100.01 71.74,99.02 71.90,98.04 72.06,97.07 72.22,96.10 72.39,95.15 72.56,94.20 72.73,93.26 72.92,92.33 73.10,91.41 73.30,90.50 73.51,89.56 73.73,88.62 73.96,87.69 74.20,86.77 74.44,85.86 74.68,84.96 74.93,84.07 75.18,83.19 75.43,82.33 75.69,81.47 75.94,80.63 76.20,79.80 76.49,78.85 76.78,77.92 77.06,77.01 77.34,76.12 77.64,75.23 77.94,74.36 78.27,73.50 78.62,72.65 79.00,71.80 79.41,70.95 79.84,70.09 80.29,69.23 80.75,68.38 81.24,67.55 81.74,66.75 82.25,65.98 82.77,65.26 83.30,64.60 83.95,63.86 84.61,63.18 85.28,62.55 85.98,61.98 86.72,61.47 87.50,61.00 88.36,60.59 89.25,60.25 90.18,59.97 91.15,59.73 92.16,59.51 93.20,59.30 94.07,59.13 94.96,58.99 95.87,58.73 96.80,58.80 97.76,58.97 98.76,58.66 99.79,58.23 100.87,58.18 102.00,58.20 102.79,58.08 103.62,57.96 104.47,58.09 105.35,58.33 106.25,58.43 107.18,58.32 108.12,58.05 109.08,58.02 110.05,58.12 111.03,57.97 112.03,57.99 113.02,57.95 114.03,57.74 115.03,57.72 116.04,57.81 117.04,57.94 118.03,58.08 119.02,58.01 120.00,57.71 120.92,57.64 121.82,57.78 122.71,57.72 123.59,57.50 124.46,57.58 125.32,57.67 126.19,57.62 127.06,57.82 127.94,57.95 128.82,58.00 129.71,57.88 130.62,57.54 131.55,57.44 132.50,57.63 133.47,57.84 134.47,57.79 135.51,57.53 136.57,57.38 137.67,57.37 138.81,57.41 140.00,57.50 140.73,57.73 141.47,57.90 142.23,57.66 143.01,57.54 143.80,57.57 144.61,57.44 145.43,57.45 146.27,57.64 147.12,57.62 147.98,57.56 148.86,57.70 149.75,57.68 150.65,57.69 151.56,57.84 152.48,57.91 153.42,57.89 154.36,57.76 155.32,57.68 156.28,57.62 157.26,57.62 158.24,57.72 159.23,57.54 160.23,57.57 161.23,57.93 162.25,57.75 163.27,57.65 164.29,57.91 165.33,57.93 166.36,57.82 167.41,57.67 168.45,57.49 169.50,57.28 170.56,57.21 171.62,57.44 172.68,57.77 173.75,58.15 174.81,58.22 175.88,57.95 176.95,57.87 178.02,57.82 179.09,57.65 180.16,57.46 181.24,57.42 182.31,57.51 183.38,57.62 184.44,57.74 185.51,57.90 186.57,58.09 187.63,58.08 188.69,58.08 189.75,58.20 190.80,58.14 191.84,57.99 192.88,57.94 193.92,58.04 194.95,58.22 195.97,58.25 196.99,58.19 198.00,58.12 199.00,58.02 200.00,57.92 200.98,57.92 201.95,58.13 202.93,58.16 203.91,58.10 204.89,58.13 205.87,58.04 206.84,58.08 207.82,58.22 208.80,58.07 209.78,57.91 210.76,57.87 211.75,57.91 212.73,58.15 213.71,58.15 214.69,58.22 215.67,58.62 216.66,58.61 217.64,58.29 218.62,58.25 219.61,58.42 220.59,58.41 221.58,58.17 222.56,58.15 223.54,58.28 224.53,58.25 225.51,58.24 226.50,58.10 227.49,57.81 228.47,57.55 229.46,57.47 230.44,57.87 231.43,58.14 232.42,58.06 233.40,58.23 234.39,58.30 235.38,58.10 236.36,58.02 237.35,57.96 238.34,57.85 239.32,57.89 240.31,58.04 241.30,58.19 242.28,58.14 243.27,58.02 244.26,58.02 245.24,57.93 246.23,57.94 247.22,58.06 248.20,58.03 249.19,58.01 250.18,57.99 251.16,57.87 252.15,57.82 253.13,57.99 254.12,58.14 255.11,58.24 256.09,58.34 257.08,57.95 258.06,57.46 259.05,57.81 260.03,58.25 261.02,58.11 262.00,57.85 262.00,57.81 264.00,24.00 264.00,24.00 264.33,23.11 264.66,22.11 264.99,21.32 265.30,21.00 265.54,21.21 265.77,21.77 265.99,22.60 266.21,23.63 266.41,24.78 266.60,26.00 266.68,26.57 266.76,27.21 266.83,27.90 266.90,28.64 266.96,29.43 267.02,30.27 267.08,31.15 267.13,32.08 267.19,33.04 267.23,34.03 267.28,35.05 267.32,36.11 267.37,37.18 267.41,38.28 267.45,39.40 267.49,40.53 267.52,41.67 267.56,42.83 267.60,43.99 267.64,45.15 267.68,46.31 267.71,47.46 267.75,48.61 267.79,49.75 267.84,50.88 267.88,51.98 267.93,53.07 267.98,54.14 268.03,55.18 268.08,56.19 268.14,57.17 268.20,58.11 268.26,59.02 268.33,59.88 268.40,60.70 268.51,61.85 268.62,62.97 268.73,64.05 268.84,65.10 268.96,66.12 269.08,67.12 269.20,68.10 269.32,69.05 269.45,69.99 269.58,70.91 269.72,71.83 269.86,72.73 270.01,73.62 270.17,74.52 270.33,75.41 270.50,76.30 270.70,77.33 270.89,78.34 271.08,79.34 271.27,80.33 271.47,81.31 271.69,82.27 271.91,83.21 272.16,84.15 272.42,85.06 272.72,85.96 273.04,86.84 273.40,87.70 273.80,88.55 274.23,89.39 274.68,90.20 275.17,91.00 275.67,91.78 276.19,92.54 276.73,93.29 277.28,94.03 277.85,94.76 278.42,95.49 279.00,96.20 279.58,96.90 280.18,97.60 280.78,98.29 281.40,98.97 282.04,99.64 282.68,100.29 283.34,100.93 284.01,101.55 284.69,102.15 285.39,102.74 286.10,103.30 286.90,103.92 287.74,104.56 288.61,105.20 289.49,105.83 290.39,106.42 291.28,106.96 292.17,107.44 293.04,107.84 293.89,108.13 294.70,108.30 295.73,108.38 296.77,108.32 297.79,108.14 298.76,107.83 299.64,107.38 300.40,106.80 300.91,106.10 301.31,105.12 301.63,103.96 301.89,102.70 302.12,101.45 302.34,100.30 302.58,99.32 302.86,98.63 303.20,98.30 303.87,98.53 304.59,99.27 305.30,100.00 305.30,100.00 306.30,114.85 307.50,154.80 308.50,135.00 309.50,114.85 328.50,114.85" fill="none" stroke="#ff0000" stroke-width="2.0" stroke-linejoin="round" stroke-linecap="butt" />
<polyline points="43.50,114.85 66.40,114.85 67.20,150.00 67.20,150.00 67.25,149.03 67.29,148.06 67.33,147.08 67.38,146.10 67.42,145.11 67.46,144.12 67.50,143.12 67.54,142.12 67.58,141.13 67.62,140.13 67.66,139.13 67.70,138.14 67.74,137.15 67.79,136.16 67.83,135.18 67.87,134.21 67.92,133.24 67.97,132.28 68.01,131.33 68.06,130.39 68.11,129.46 68.17,128.54 68.22,127.63 68.28,126.74 68.34,125.86 68.40,125.00 68.48,123.97 68.56,122.95 68.64,121.96 68.72,120.99 68.80,120.03 68.89,119.09 68.98,118.15 69.07,117.23 69.16,116.32 69.26,115.41 69.35,114.50 69.45,113.59 69.56,112.69 69.66,111.77 69.77,110.86 69.88,109.93 70.00,109.00 70.12,108.05 70.24,107.09 70.36,106.11 70.49,105.13 70.62,104.15 70.75,103.16 70.89,102.17 71.03,101.19 71.17,100.22 71.31,99.25 71.46,98.30 71.61,97.36 71.76,96.44 71.91,95.54 72.07,94.67 72.23,93.82 72.40,93.00 72.61,91.99 72.82,91.03 73.03,90.10 73.25,89.20 73.47,88.33 73.70,87.47 73.95,86.61 74.21,85.75 74.49,84.89 74.80,84.00 75.11,83.13 75.44,82.25 75.79,81.35 76.16,80.46 76.53,79.56 76.92,78.67 77.32,77.80 77.73,76.95 78.15,76.13 78.57,75.35 79.00,74.60 79.49,73.79 79.97,73.01 80.45,72.25 80.96,71.53 81.48,70.84 82.04,70.19 82.64,69.58 83.30,69.00 84.05,68.44 84.84,67.92 85.67,67.44 86.55,67.01 87.46,66.61 88.41,66.24 89.39,65.91 90.40,65.60 91.23,65.38 92.07,65.19 92.91,65.03 93.78,64.90 94.66,64.79 95.58,64.48 96.52,64.34 97.51,64.44 98.55,64.61 99.64,64.63 100.79,64.42 102.00,64.17 102.70,64.16 103.43,64.41 104.18,64.53 104.95,64.25 105.74,63.92 106.55,64.02 107.38,64.31 108.23,64.14 109.09,63.85 109.98,63.87 110.87,63.87 111.79,63.88 112.72,63.92 113.66,64.00 114.62,64.13 115.59,64.10 116.58,64.06 117.57,64.21 118.58,64.17 119.60,63.95 120.62,63.93 121.66,64.00 122.70,64.00 123.76,64.00 124.81,64.13 125.88,64.21 126.95,64.13 128.03,64.06 129.11,64.07 130.19,64.01 131.28,64.05 132.37,64.18 133.46,64.28 134.55,64.50 135.64,64.42 136.73,64.15 137.82,64.20 138.91,64.25 140.00,64.33 140.88,64.26 141.76,64.09 142.65,64.21 143.54,64.43 144.44,64.46 145.35,64.37 146.26,64.37 147.18,64.30 148.11,64.24 149.04,64.40 149.98,64.64 150.92,64.83 151.87,64.91 152.82,64.80 153.77,64.70 154.73,64.62 155.70,64.44 156.67,64.53 157.64,64.66 158.62,64.55 159.60,64.50 160.58,64.56 161.57,64.57 162.56,64.50 163.56,64.49 164.56,64.56 165.56,64.50 166.56,64.49 167.56,64.52 168.57,64.34 169.58,64.19 170.59,64.36 171.60,64.59 172.62,64.52 173.63,64.32 174.65,64.38 175.67,64.49 176.69,64.38 177.71,64.38 178.73,64.52 179.75,64.46 180.77,64.48 181.79,64.57 182.81,64.56 183.83,64.70 184.85,64.80 185.87,64.58 186.89,64.29 187.91,64.27 188.93,64.47 189.94,64.62 190.96,64.65 191.97,64.59 192.98,64.52 193.99,64.50 195.00,64.57 196.00,64.64 197.01,64.65 198.01,64.82 199.01,65.03 200.00,64.80 200.98,64.63 201.96,64.87 202.94,64.82 203.93,64.66 204.91,64.78 205.90,64.74 206.88,64.58 207.86,64.50 208.85,64.52 209.84,64.73 210.82,64.86 211.81,64.78 212.80,64.90 213.78,64.94 214.77,64.70 215.76,64.65 216.75,64.62 217.74,64.46 218.73,64.49 219.72,64.68 220.71,64.75 221.70,64.68 222.69,64.75 223.68,64.86 224.67,64.89 225.67,64.91 226.66,64.89 227.65,64.97 228.64,65.08 229.63,64.96 230.63,64.84 231.62,64.77 232.61,64.61 233.61,64.66 234.60,64.86 235.59,64.99 236.59,65.00 237.58,64.72 238.57,64.64 239.57,64.98 240.56,64.94 241.55,64.74 242.55,64.84 243.54,64.68 244.54,64.41 245.53,64.47 246.52,64.72 247.52,64.85 248.51,64.69 249.50,64.59 250.50,64.62 251.49,64.56 252.48,64.55 253.48,64.75 254.47,64.93 255.46,64.81 256.45,64.52 257.44,64.47 258.44,64.58 259.43,64.56 260.42,64.43 261.41,64.40 262.40,64.70 262.40,64.70 264.00,40.00 264.00,40.00 264.25,39.06 264.50,38.50 264.68,38.82 264.86,39.63 265.04,40.76 265.20,42.00 265.27,42.60 265.33,43.27 265.39,44.00 265.45,44.79 265.50,45.63 265.55,46.52 265.59,47.45 265.64,48.42 265.68,49.42 265.72,50.46 265.76,51.51 265.81,52.58 265.85,53.66 265.89,54.74 265.94,55.83 265.99,56.92 266.04,57.99 266.10,59.05 266.16,60.10 266.23,61.11 266.30,62.10 266.37,63.06 266.45,64.02 266.53,64.99 266.62,65.97 266.71,66.95 266.80,67.93 266.89,68.92 266.98,69.90 267.08,70.89 267.17,71.88 267.27,72.86 267.37,73.85 267.47,74.83 267.58,75.80 267.68,76.78 267.78,77.75 267.89,78.71 267.99,79.66 268.09,80.61 268.20,81.55 268.30,82.48 268.40,83.40 268.50,84.41 268.60,85.43 268.68,86.47 268.75,87.50 268.82,88.54 268.89,89.58 268.96,90.61 269.03,91.63 269.11,92.64 269.20,93.63 269.29,94.60 269.40,95.55 269.53,96.47 269.68,97.35 269.84,98.20 270.04,99.01 270.25,99.78 270.50,100.50 270.90,101.50 271.34,102.43 271.80,103.29 272.30,104.08 272.85,104.83 273.44,105.52 274.09,106.18 274.80,106.80 275.49,107.31 276.23,107.78 277.03,108.21 277.87,108.60 278.74,108.96 279.64,109.29 280.55,109.59 281.47,109.88 282.39,110.15 283.30,110.40 284.18,110.63 285.08,110.85 286.01,111.05 286.95,111.23 287.90,111.40 288.85,111.54 289.79,111.65 290.71,111.74 291.61,111.79 292.48,111.81 293.30,111.80 294.31,111.76 295.31,111.69 296.28,111.58 297.22,111.42 298.09,111.18 298.89,110.85 299.60,110.40 300.20,109.80 300.69,109.06 301.10,108.21 301.47,107.31 301.80,106.39 302.14,105.51 302.50,104.70 302.95,103.69 303.39,102.57 303.81,101.54 304.21,100.79 304.60,100.50 304.97,100.81 305.32,101.55 305.66,102.47 306.00,103.30 306.00,103.30 306.70,114.85 307.50,141.00 308.50,128.00 309.50,114.85 328.50,114.85" fill="none" stroke="#a2142f" stroke-width="2.0" stroke-linejoin="round" stroke-linecap="butt" />
<polygon points="50.3,10.2 59.9,34.1 59.3,46 49.1,21" fill="#1f9a86"/>
<polygon points="59.9,34.1 110.5,33.9 109.6,44.3 59.3,46" fill="#2bb8a0"/>
<polygon points="50.30,10.20 51.81,10.20 61.59,34.09 59.90,34.10" fill="#3fffff"/>
<polygon points="51.06,10.20 52.57,10.20 62.43,34.09 60.74,34.10" fill="#3cffff"/>
<polygon points="51.81,10.20 53.33,10.20 63.27,34.09 61.59,34.09" fill="#3affff"/>
<polygon points="52.57,10.20 54.08,10.20 64.12,34.08 62.43,34.09" fill="#37ffff"/>
<polygon points="53.33,10.20 54.84,10.20 64.96,34.08 63.27,34.09" fill="#35ffff"/>
<polygon points="54.08,10.20 55.60,10.20 65.80,34.08 64.12,34.08" fill="#32ffff"/>
<polygon points="54.84,10.20 56.35,10.20 66.65,34.07 64.96,34.08" fill="#20aaff"/>
<polygon points="55.60,10.20 57.11,10.20 67.49,34.07 65.80,34.08" fill="#0000ff"/>
<polygon points="56.35,10.20 57.87,10.20 68.33,34.07 66.65,34.07" fill="#0000ff"/>
<polygon points="57.11,10.20 58.62,10.20 69.18,34.06 67.49,34.07" fill="#20ffff"/>
<polygon points="57.87,10.20 59.38,10.20 70.02,34.06 68.33,34.07" fill="#2effff"/>
<polygon points="58.62,10.20 60.14,10.20 70.86,34.06 69.18,34.06" fill="#3cffff"/>
<polygon points="59.38,10.20 60.89,10.20 71.71,34.05 70.02,34.06" fill="#4affff"/>
<polygon points="60.14,10.20 61.65,10.20 72.55,34.05 70.86,34.06" fill="#80ffc4"/>
<polygon points="60.89,10.20 62.41,10.20 73.39,34.05 71.71,34.05" fill="#d0ff61"/>
<polygon points="61.65,10.20 63.16,10.20 74.24,34.04 72.55,34.05" fill="#f9fd2c"/>
<polygon points="62.41,10.20 63.92,10.20 75.08,34.04 73.39,34.05" fill="#faf923"/>
<polygon points="63.16,10.20 64.68,10.20 75.92,34.04 74.24,34.04" fill="#fbf41a"/>
<polygon points="63.92,10.20 65.43,10.20 76.77,34.03 75.08,34.04" fill="#fdf011"/>
<polygon points="64.68,10.20 66.19,10.20 77.61,34.03 75.92,34.04" fill="#feec08"/>
<polygon points="65.43,10.20 66.95,10.20 78.45,34.03 76.77,34.03" fill="#ffe700"/>
<polygon points="66.19,10.20 67.70,10.20 79.30,34.02 77.61,34.03" fill="#ffd900"/>
<polygon points="66.95,10.20 68.46,10.20 80.14,34.02 78.45,34.03" fill="#ffcc00"/>
<polygon points="67.70,10.20 69.22,10.20 80.98,34.02 79.30,34.02" fill="#ffbf00"/>
<polygon points="68.46,10.20 69.97,10.20 81.83,34.01 80.14,34.02" fill="#ffb100"/>
<polygon points="69.22,10.20 70.73,10.20 82.67,34.01 80.98,34.02" fill="#ffa800"/>
<polygon points="69.97,10.20 71.49,10.20 83.51,34.01 81.83,34.01" fill="#ffa600"/>
<polygon points="70.73,10.20 72.24,10.20 84.36,34.00 82.67,34.01" fill="#ffa400"/>
<polygon points="71.49,10.20 73.00,10.20 85.20,34.00 83.51,34.01" fill="#ffa200"/>
<polygon points="72.24,10.20 73.76,10.20 86.04,34.00 84.36,34.00" fill="#ffa100"/>
<polygon points="73.00,10.20 74.51,10.20 86.89,33.99 85.20,34.00" fill="#ffa000"/>
<polygon points="73.76,10.20 75.27,10.20 87.73,33.99 86.04,34.00" fill="#ffa000"/>
<polygon points="74.51,10.20 76.03,10.20 88.57,33.99 86.89,33.99" fill="#ffa000"/>
<polygon points="75.27,10.20 76.78,10.20 89.42,33.98 87.73,33.99" fill="#ffa000"/>
<polygon points="76.03,10.20 77.54,10.20 90.26,33.98 88.57,33.99" fill="#ffa000"/>
<polygon points="76.78,10.20 78.30,10.20 91.10,33.98 89.42,33.98" fill="#ffa000"/>
<polygon points="77.54,10.20 79.05,10.20 91.95,33.97 90.26,33.98" fill="#ffa000"/>
<polygon points="78.30,10.20 79.81,10.20 92.79,33.97 91.10,33.98" fill="#ffa300"/>
<polygon points="79.05,10.20 80.57,10.20 93.63,33.97 91.95,33.97" fill="#ffae00"/>
<polygon points="79.81,10.20 81.32,10.20 94.48,33.96 92.79,33.97" fill="#ffba00"/>
<polygon points="80.57,10.20 82.08,10.20 95.32,33.96 93.63,33.97" fill="#ffc500"/>
<polygon points="81.32,10.20 82.84,10.20 96.16,33.96 94.48,33.96" fill="#ffd800"/>
<polygon points="82.08,10.20 83.59,10.20 97.01,33.95 95.32,33.96" fill="#ffef00"/>
<polygon points="82.84,10.20 84.35,10.20 97.85,33.95 96.16,33.96" fill="#ffff04"/>
<polygon points="83.59,10.20 85.11,10.20 98.69,33.95 97.01,33.95" fill="#ffff11"/>
<polygon points="84.35,10.20 85.86,10.20 99.54,33.94 97.85,33.95" fill="#ffff1f"/>
<polygon points="85.11,10.20 86.62,10.20 100.38,33.94 98.69,33.95" fill="#ffff2c"/>
<polygon points="85.86,10.20 87.38,10.20 101.22,33.94 99.54,33.94" fill="#ffff39"/>
<polygon points="86.62,10.20 88.13,10.20 102.07,33.93 100.38,33.94" fill="#d2ff6d"/>
<polygon points="87.38,10.20 88.89,10.20 102.91,33.93 101.22,33.94" fill="#77ffc8"/>
<polygon points="88.13,10.20 89.65,10.20 103.75,33.93 102.07,33.93" fill="#3affff"/>
<polygon points="88.89,10.20 90.40,10.20 104.60,33.92 102.91,33.93" fill="#2cffff"/>
<polygon points="89.65,10.20 91.16,10.20 105.44,33.92 103.75,33.93" fill="#19c4ff"/>
<polygon points="90.40,10.20 91.92,10.20 106.28,33.92 104.60,33.92" fill="#0000ff"/>
<polygon points="91.16,10.20 92.67,10.20 107.13,33.91 105.44,33.92" fill="#0000ff"/>
<polygon points="91.92,10.20 93.43,10.20 107.97,33.91 106.28,33.92" fill="#25c4ff"/>
<polygon points="92.67,10.20 94.19,10.20 108.81,33.91 107.13,33.91" fill="#33ffff"/>
<polygon points="93.43,10.20 94.94,10.20 109.66,33.90 107.97,33.91" fill="#37ffff"/>
<polygon points="94.19,10.20 95.70,10.20 110.50,33.90 108.81,33.91" fill="#3affff"/>
<polygon points="94.94,10.20 95.70,10.20 110.50,33.90 109.66,33.90" fill="#3effff"/>
<path d="M66.2,33.996640316205536 A19.85,8.303359683794461 0 0 0 105.9,33.996640316205536 Z" fill="url(#pa)"/>
<path d="M66.2,33.996640316205536 A19.85,8.303359683794461 0 0 0 105.9,33.996640316205536" fill="none" stroke="#0010d0" stroke-width="1.5"/>
<line x1="70.7" y1="4" x2="93.4" y2="51.7" stroke="#000" stroke-width="1.1" stroke-dasharray="1.8,1.2"/>
<text x="139.2" y="38.2" font-size="12.3" text-anchor="start" font-weight="normal" >Steady-state region</text>
<line x1="132" y1="47" x2="250.5" y2="47" stroke="#777" stroke-width="2" stroke-dasharray="8.2,4.0"/>
<polygon points="125.1,47 133.10,42.80 131.80,47.00 133.10,51.20" fill="#000"/>
<polygon points="257.3,47 249.30,51.30 249.30,47.00 249.30,42.70" fill="#000"/>
<text x="258" y="13.6" font-size="12.4" text-anchor="start" font-weight="normal" >Molten zone</text>
<line x1="286.8" y1="18" x2="286.8" y2="28" stroke="#000" stroke-width="1"/>
<polygon points="286.8,34.3 282.55,26.30 286.80,26.80 291.05,26.30" fill="#000"/>
<line x1="113.6" y1="151.8" x2="129.3" y2="151.8" stroke="#0000ff" stroke-width="3" stroke-linecap="round"/>
<text x="136.1" y="155.8" font-size="12.4">1 mm s<tspan font-size="8" dx="-0.2" dy="-6.0">-1</tspan></text>
<line x1="113.6" y1="169.5" x2="129.3" y2="169.5" stroke="#00ffff" stroke-width="3" stroke-linecap="round"/>
<text x="136.1" y="173.5" font-size="12.4">10 mm s<tspan font-size="8" dx="-0.2" dy="-6.0">-1</tspan></text>
<line x1="113.6" y1="187.20000000000002" x2="129.3" y2="187.20000000000002" stroke="#77ac30" stroke-width="3" stroke-linecap="round"/>
<text x="136.1" y="191.20000000000002" font-size="12.4">50 mm s</text>
<line x1="206.8" y1="151.8" x2="223.8" y2="151.8" stroke="#edb120" stroke-width="3" stroke-linecap="round"/>
<text x="229.2" y="155.8" font-size="12.4">100 mm s<tspan font-size="8" dx="-0.2" dy="-6.0">-1</tspan></text>
<line x1="206.8" y1="169.5" x2="223.8" y2="169.5" stroke="#ff0000" stroke-width="3" stroke-linecap="round"/>
<text x="229.2" y="173.5" font-size="12.4">200 mm s<tspan font-size="8" dx="-0.2" dy="-6.0">-1</tspan></text>
<line x1="206.8" y1="187.20000000000002" x2="223.8" y2="187.20000000000002" stroke="#a2142f" stroke-width="3" stroke-linecap="round"/>
<text x="229.2" y="191.20000000000002" font-size="12.4">500 mm s<tspan font-size="8" dx="-0.2" dy="-6.0">-1</tspan></text>
<text x="46.1" y="216.2" font-size="13" text-anchor="middle" font-weight="normal" >0</text>
<text x="100.6" y="216.2" font-size="13" text-anchor="middle" font-weight="normal" >2</text>
<text x="157.7" y="216.2" font-size="13" text-anchor="middle" font-weight="normal" >4</text>
<text x="214.8" y="216.2" font-size="13" text-anchor="middle" font-weight="normal" >6</text>
<text x="271.9" y="216.2" font-size="13" text-anchor="middle" font-weight="normal" >8</text>
<text x="329.0" y="216.2" font-size="13" text-anchor="middle" font-weight="normal" >10</text>
<text x="37.6" y="203.9" font-size="13" text-anchor="end" font-weight="normal" >0.2</text>
<text x="37.6" y="176.55" font-size="13" text-anchor="end" font-weight="normal" >0.3</text>
<text x="37.6" y="149.0" font-size="13" text-anchor="end" font-weight="normal" >0.4</text>
<text x="37.6" y="120.45" font-size="13" text-anchor="end" font-weight="normal" >0.5</text>
<text x="37.6" y="91.9" font-size="13" text-anchor="end" font-weight="normal" >0.6</text>
<text x="37.6" y="63.35000000000003" font-size="13" text-anchor="end" font-weight="normal" >0.7</text>
<text x="37.6" y="34.79999999999999" font-size="13" text-anchor="end" font-weight="normal" >0.8</text>
<text x="37.6" y="10.8" font-size="13" text-anchor="end" font-weight="normal" >0.9</text>
<text x="186.7" y="234.0" font-size="13.7" text-anchor="middle" font-weight="normal" >Longitudinal position on the top surface (μm)</text>
<text transform="translate(9.8,107.2) rotate(-90)" text-anchor="middle" font-size="13.7">Ge molar fraction <tspan font-style="italic">x</tspan> (mol)</text>
<polyline points="393.50,119.90 456.80,119.90 457.60,112.50 458.50,114.50 460.70,110.00 460.70,109.94 461.39,109.83 462.08,109.74 462.80,109.69 463.49,109.99 464.21,110.59 464.93,111.08 465.60,111.29 466.36,111.60 467.08,112.08 467.80,112.42 468.43,112.31 469.07,111.73 469.90,110.97 470.57,110.80 471.34,110.73 472.21,110.46 473.15,110.62 474.14,110.76 475.18,110.38 476.25,110.16 477.33,110.38 478.40,110.66 479.25,110.35 480.15,109.91 481.08,110.22 482.05,110.77 483.03,110.87 484.04,110.61 485.05,110.07 486.07,109.76 487.08,110.01 488.07,110.21 489.05,110.42 490.00,110.66 490.91,110.49 491.78,110.38 492.60,110.37 493.62,110.14 494.54,109.94 495.41,110.12 496.25,110.54 497.09,110.60 497.98,110.58 498.94,110.82 500.00,110.62 500.76,110.37 501.56,110.63 502.40,110.57 503.27,110.43 504.18,110.69 505.11,110.74 506.06,110.78 507.03,110.69 508.02,110.23 509.02,110.25 510.02,110.74 511.04,110.96 512.05,110.79 513.07,110.60 514.08,110.71 515.08,111.10 516.07,111.20 517.04,110.67 518.00,110.49 518.99,110.92 519.98,111.11 520.97,111.20 521.96,111.61 522.95,111.72 523.94,111.44 524.93,111.48 525.92,111.66 526.91,111.42 527.89,111.23 528.88,111.39 529.87,111.55 530.86,111.70 531.85,111.72 532.83,111.83 533.82,112.02 534.81,111.91 535.80,111.67 536.40,111.87 537.39,112.45 538.38,112.26 539.37,111.48 540.35,111.43 541.34,111.74 542.33,111.69 543.32,111.76 544.31,111.93 545.29,111.78 546.28,111.53 547.27,111.41 548.26,111.50 549.25,111.83 550.24,112.13 551.23,111.92 552.22,111.60 553.21,111.58 554.20,111.25 555.16,110.86 556.13,111.13 557.12,111.37 558.12,111.25 559.13,111.25 560.15,111.12 561.16,110.84 562.18,110.96 563.18,111.43 564.18,111.47 565.17,111.17 566.14,110.66 567.09,110.52 568.02,110.81 568.93,110.94 569.80,111.04 570.64,111.07 571.44,110.96 572.20,110.38 573.26,110.05 574.22,110.42 575.11,110.50 575.95,110.50 576.79,110.47 577.66,109.98 578.58,109.58 579.60,109.47 580.42,109.32 581.29,109.29 582.20,109.46 583.15,109.70 584.13,109.80 585.12,109.83 586.13,110.16 587.15,110.45 588.16,110.42 589.17,110.31 590.15,110.23 591.12,110.45 592.05,110.55 592.95,110.19 593.80,110.02 594.87,110.34 595.95,110.81 597.02,111.02 598.06,111.03 599.05,110.85 599.99,110.39 600.86,110.49 601.63,110.89 602.30,111.06 603.13,111.62 603.77,112.56 604.40,113.12 605.12,112.70 605.84,111.95 606.60,111.15 607.27,110.25 607.99,109.50 608.71,109.55 609.40,109.61 610.12,109.39 610.81,109.56 611.50,110.26 611.50,110.78 613.70,114.50 614.60,112.50 615.40,119.90 678.70,119.90" fill="none" stroke="#0000ff" stroke-width="2.0" stroke-linejoin="round" stroke-linecap="butt" />
<polyline points="393.50,119.90 456.80,119.90 457.50,116.00 458.30,121.90 461.40,128.40 461.40,128.40 461.73,127.47 462.05,126.64 462.35,125.90 462.66,124.88 462.99,123.64 463.34,122.60 463.74,121.82 464.20,121.15 464.72,120.48 465.27,119.66 465.87,118.95 466.49,118.58 467.14,118.08 467.82,117.45 468.50,116.80 469.23,116.21 469.98,115.85 470.75,115.40 471.54,114.77 472.37,114.29 473.22,113.82 474.10,113.08 474.88,112.56 475.70,112.30 476.55,111.73 477.43,111.06 478.32,110.73 479.21,110.38 480.11,109.82 480.99,109.42 481.86,109.34 482.70,109.14 483.60,108.57 484.48,108.09 485.34,107.91 486.19,107.62 487.05,107.20 487.93,106.98 488.84,106.71 489.80,106.18 490.66,105.82 491.57,105.74 492.51,105.68 493.48,105.40 494.46,104.91 495.44,104.61 496.42,104.37 497.37,104.17 498.29,104.28 499.17,104.22 500.00,104.04 501.04,104.00 501.97,103.82 502.86,103.48 503.76,103.24 504.72,102.90 505.80,102.50 506.60,102.51 507.44,102.34 508.31,101.99 509.22,101.98 510.16,102.04 511.12,101.95 512.11,101.76 513.12,101.66 514.14,101.55 515.17,101.40 516.21,101.40 517.26,101.37 518.30,101.23 519.20,101.17 520.11,101.26 521.04,101.18 521.99,101.01 522.95,101.08 523.91,101.25 524.89,101.05 525.87,100.67 526.86,100.71 527.86,100.76 528.86,100.49 529.86,100.43 530.86,100.48 531.85,100.35 532.85,100.46 533.84,100.44 534.82,100.06 535.80,99.89 536.40,99.97 537.38,100.32 538.36,100.77 539.35,100.69 540.35,100.22 541.34,100.26 542.34,100.72 543.34,100.93 544.34,100.75 545.34,100.59 546.33,100.69 547.31,100.77 548.29,100.71 549.25,100.76 550.21,100.96 551.16,101.07 552.09,101.05 553.00,100.97 553.90,100.91 554.94,101.20 555.99,101.53 557.03,101.42 558.06,101.42 559.08,101.82 560.09,102.16 561.08,102.30 562.04,102.14 562.98,101.90 563.89,102.04 564.76,102.67 565.60,102.96 566.40,102.62 567.48,102.68 568.44,103.01 569.34,103.15 570.23,103.35 571.16,103.68 572.20,104.10 573.03,104.39 573.91,104.54 574.83,104.67 575.78,104.76 576.76,104.74 577.74,104.63 578.72,104.93 579.69,105.47 580.63,105.74 581.54,106.05 582.40,106.46 583.36,106.85 584.27,107.16 585.15,107.38 586.01,107.49 586.86,107.65 587.72,107.98 588.60,108.35 589.50,108.71 590.34,109.18 591.21,109.74 592.09,110.21 592.99,110.43 593.88,110.71 594.77,111.37 595.65,112.11 596.50,112.69 597.32,113.01 598.10,113.17 598.98,113.79 599.83,114.63 600.66,115.22 601.45,115.81 602.22,116.19 602.97,116.32 603.70,116.84 604.38,117.51 605.06,118.09 605.71,118.63 606.33,119.17 606.93,119.62 607.48,120.11 608.00,120.87 608.46,121.75 608.86,122.66 609.21,123.63 609.54,124.73 609.85,125.75 610.15,126.51 610.47,127.47 610.80,128.40 610.80,128.40 613.90,121.90 614.70,116.00 615.40,119.90 678.70,119.90" fill="none" stroke="#00ffff" stroke-width="2.0" stroke-linejoin="round" stroke-linecap="butt" />
<polyline points="393.50,119.90 454.50,119.90 455.80,119.30 456.80,117.00 457.60,112.00 458.30,118.00 459.00,123.90 461.90,161.10 461.90,161.10 462.13,160.14 462.36,159.17 462.58,158.20 462.81,157.23 463.03,156.25 463.25,155.28 463.48,154.30 463.70,153.32 463.92,152.34 464.14,151.37 464.37,150.39 464.59,149.42 464.82,148.45 465.05,147.49 465.28,146.53 465.51,145.57 465.75,144.62 465.99,143.68 466.24,142.75 466.49,141.82 466.74,140.91 467.00,140.00 467.29,139.00 467.59,138.01 467.88,137.02 468.18,136.03 468.48,135.05 468.78,134.08 469.09,133.12 469.40,132.16 469.71,131.21 470.03,130.34 470.35,129.54 470.68,128.64 471.02,127.76 471.36,126.77 471.71,125.55 472.06,124.48 472.43,123.62 472.80,122.96 473.19,122.24 473.60,121.32 474.01,120.26 474.44,119.21 474.87,118.39 475.31,117.72 475.76,117.12 476.21,116.35 476.66,115.38 477.11,114.46 477.57,113.68 478.02,112.86 478.47,111.92 478.92,111.08 479.36,110.34 479.80,109.56 480.32,108.69 480.83,107.88 481.34,107.16 481.85,106.41 482.35,105.60 482.86,104.93 483.37,104.16 483.89,103.27 484.42,102.49 484.95,101.84 485.50,101.17 486.01,100.43 486.53,99.64 487.06,99.04 487.59,98.46 488.13,97.52 488.67,96.60 489.22,95.89 489.77,95.11 490.33,94.37 490.89,93.59 491.45,92.58 492.03,91.66 492.60,91.14 493.24,90.56 493.88,89.80 494.53,89.15 495.18,88.46 495.84,87.69 496.50,87.17 497.18,86.62 497.86,85.89 498.56,85.18 499.27,84.59 500.00,83.93 500.71,83.06 501.42,82.29 502.16,81.62 502.90,80.76 503.65,79.98 504.42,79.52 505.19,79.16 505.96,78.54 506.74,77.65 507.53,77.01 508.31,76.70 509.10,76.34 509.90,75.93 510.69,75.61 511.47,75.21 512.25,74.68 513.04,74.11 513.84,73.46 514.67,73.04 515.52,72.90 516.40,72.72 517.33,72.42 518.30,72.10 519.12,71.89 519.97,71.51 520.86,71.01 521.78,70.89 522.72,71.00 523.68,70.82 524.66,70.58 525.66,70.59 526.67,70.46 527.68,70.30 528.71,70.33 529.74,70.18 530.77,69.97 531.79,70.00 532.81,69.88 533.82,69.61 534.82,69.36 535.80,69.10 536.40,69.25 537.38,69.55 538.38,69.63 539.39,69.74 540.41,69.91 541.43,70.13 542.46,70.31 543.49,70.30 544.52,70.35 545.53,70.67 546.54,70.89 547.54,70.82 548.52,70.74 549.48,70.85 550.42,71.23 551.34,71.57 552.23,71.70 553.08,71.68 553.90,71.81 554.87,72.33 555.80,72.66 556.68,72.72 557.53,73.02 558.36,73.61 559.16,74.28 559.95,74.84 560.73,75.02 561.51,75.29 562.30,75.72 563.10,76.08 563.89,76.77 564.67,77.60 565.46,78.04 566.24,78.36 567.01,78.95 567.78,79.78 568.55,80.51 569.30,81.03 570.04,81.58 570.78,82.28 571.49,82.89 572.20,83.47 572.93,84.05 573.64,84.47 574.34,85.15 575.02,86.06 575.70,86.77 576.36,87.45 577.02,88.36 577.67,89.26 578.32,89.94 578.96,90.66 579.60,91.47 580.17,92.05 580.75,92.58 581.31,93.47 581.87,94.34 582.43,94.95 582.98,95.69 583.53,96.46 584.07,97.13 584.61,97.94 585.14,98.89 585.67,99.77 586.19,100.42 586.70,100.98 587.25,101.86 587.78,102.85 588.31,103.72 588.83,104.47 589.34,105.23 589.85,106.00 590.35,106.61 590.86,107.18 591.37,107.92 591.88,108.56 592.40,109.16 592.84,110.16 593.28,111.29 593.73,111.78 594.18,112.28 594.63,113.40 595.09,114.53 595.54,115.31 595.99,116.05 596.44,116.84 596.89,117.77 597.33,118.82 597.76,119.65 598.19,120.44 598.60,121.42 599.01,122.32 599.40,123.07 599.77,123.90 600.14,124.76 600.49,125.66 600.84,126.56 601.18,127.48 601.52,128.40 601.85,129.33 602.17,130.26 602.49,131.21 602.80,132.16 603.11,133.12 603.42,134.08 603.72,135.05 604.02,136.03 604.32,137.02 604.61,138.01 604.91,139.00 605.20,140.00 605.46,140.91 605.71,141.82 605.96,142.75 606.21,143.68 606.45,144.62 606.69,145.57 606.92,146.53 607.15,147.49 607.38,148.45 607.61,149.42 607.83,150.39 608.06,151.37 608.28,152.34 608.50,153.32 608.72,154.30 608.95,155.28 609.17,156.25 609.39,157.23 609.62,158.20 609.84,159.17 610.07,160.14 610.30,161.10 610.30,161.10 613.20,123.90 613.90,118.00 614.60,112.00 615.40,117.00 616.40,119.30 617.70,119.90 678.70,119.90" fill="none" stroke="#77ac30" stroke-width="2.0" stroke-linejoin="round" stroke-linecap="butt" />
<polyline points="393.50,119.90 454.30,119.90 455.60,119.50 456.70,117.50 457.60,111.00 458.30,118.00 459.00,123.90 462.20,178.00 462.20,178.00 462.45,177.04 462.70,176.08 462.96,175.12 463.21,174.16 463.46,173.20 463.71,172.24 463.96,171.28 464.21,170.32 464.46,169.36 464.72,168.40 464.97,167.44 465.22,166.48 465.47,165.52 465.72,164.56 465.97,163.60 466.22,162.64 466.48,161.68 466.73,160.72 466.98,159.76 467.23,158.80 467.49,157.84 467.74,156.88 467.99,155.92 468.25,154.96 468.50,154.00 468.75,153.04 469.01,152.07 469.27,151.09 469.53,150.12 469.79,149.14 470.04,148.19 470.30,146.96 470.57,146.12 470.83,145.35 471.09,144.41 471.35,143.47 471.61,142.50 471.87,141.35 472.13,140.26 472.39,139.39 472.64,138.42 472.90,137.36 473.16,136.43 473.41,135.61 473.66,134.65 473.91,133.58 474.16,132.51 474.41,131.64 474.66,130.97 474.90,130.16 475.17,129.20 475.43,128.30 475.69,127.45 475.95,126.47 476.20,125.42 476.45,124.40 476.70,123.39 476.95,122.42 477.19,121.42 477.44,120.62 477.69,119.87 477.94,118.88 478.19,117.84 478.45,116.88 478.71,116.11 478.97,115.42 479.24,114.53 479.52,113.43 479.80,112.47 480.11,111.56 480.42,110.53 480.73,109.55 481.04,108.73 481.36,107.94 481.68,107.04 482.00,106.10 482.32,105.10 482.66,104.12 482.99,103.35 483.33,102.52 483.68,101.53 484.03,100.56 484.39,99.68 484.75,98.85 485.12,97.99 485.50,97.07 485.90,96.18 486.31,95.27 486.73,94.20 487.16,93.16 487.59,92.30 488.03,91.47 488.47,90.49 488.92,89.61 489.38,88.93 489.84,88.15 490.29,87.03 490.76,85.82 491.22,84.95 491.68,84.17 492.14,83.32 492.60,82.69 493.05,82.04 493.49,81.04 493.93,80.10 494.38,79.37 494.82,78.55 495.27,77.63 495.71,76.74 496.16,75.97 496.62,75.10 497.08,74.03 497.55,73.27 498.02,72.79 498.50,72.04 498.99,71.02 499.49,70.12 500.00,69.34 500.52,68.52 501.04,67.88 501.57,67.26 502.11,66.44 502.65,65.56 503.20,64.66 503.75,63.90 504.31,63.09 504.88,62.08 505.46,61.27 506.04,60.64 506.64,60.06 507.24,59.50 507.85,58.68 508.47,57.81 509.10,57.22 509.87,56.57 510.63,56.11 511.40,55.72 512.18,55.08 512.97,54.51 513.78,54.12 514.61,53.81 515.48,53.44 516.38,53.00 517.32,52.69 518.30,52.38 519.12,51.98 519.97,51.65 520.85,51.60 521.76,51.63 522.70,51.41 523.67,51.15 524.65,51.28 525.64,51.45 526.65,51.30 527.68,51.18 528.70,51.12 529.73,50.95 530.76,50.81 531.79,50.76 532.81,50.62 533.82,50.62 534.82,50.93 535.80,50.88 536.40,50.66 537.38,50.62 538.38,50.71 539.39,50.88 540.41,50.94 541.44,50.88 542.47,50.84 543.50,51.09 544.52,51.31 545.55,51.24 546.56,51.25 547.55,51.36 548.53,51.53 549.50,51.63 550.44,51.59 551.35,51.65 552.23,51.87 553.08,52.05 553.90,52.25 554.88,52.67 555.82,52.99 556.72,53.24 557.59,53.83 558.42,54.55 559.23,54.88 560.02,55.29 560.80,55.88 561.57,56.10 562.33,56.30 563.10,56.91 563.73,57.68 564.35,58.59 564.96,59.25 565.56,59.80 566.16,60.59 566.74,61.34 567.32,62.17 567.89,63.07 568.45,63.86 569.00,64.63 569.55,65.37 570.09,66.13 570.63,67.09 571.16,68.09 571.68,69.04 572.20,69.95 572.71,70.64 573.21,71.36 573.70,72.17 574.18,72.76 574.65,73.24 575.12,74.06 575.58,75.22 576.04,76.19 576.49,76.94 576.93,77.69 577.38,78.63 577.82,79.61 578.27,80.26 578.71,80.87 579.15,81.82 579.60,82.78 580.06,83.36 580.52,83.90 580.98,84.77 581.44,85.92 581.91,87.07 582.36,87.94 582.82,88.64 583.28,89.47 583.73,90.47 584.17,91.40 584.61,92.26 585.04,93.14 585.47,94.16 585.89,95.10 586.30,95.81 586.70,96.70 587.08,97.72 587.45,98.70 587.81,99.63 588.17,100.56 588.52,101.50 588.87,102.44 589.21,103.28 589.54,104.10 589.88,105.10 590.20,106.06 590.52,107.07 590.84,108.16 591.16,109.17 591.47,109.93 591.78,110.48 592.09,111.45 592.40,112.59 592.68,113.39 592.96,114.38 593.23,115.51 593.49,116.30 593.75,116.99 594.01,117.95 594.26,118.92 594.51,119.75 594.76,120.60 595.01,121.43 595.25,122.25 595.50,123.20 595.75,124.17 596.00,125.21 596.25,126.15 596.51,127.04 596.77,128.09 597.03,129.10 597.30,130.06 597.54,130.96 597.79,131.78 598.04,132.65 598.29,133.61 598.54,134.62 598.79,135.48 599.04,136.19 599.30,137.08 599.56,138.05 599.81,139.13 600.07,140.29 600.33,141.27 600.59,142.25 600.85,143.23 601.11,144.21 601.37,145.20 601.63,146.18 601.90,147.17 602.16,148.15 602.41,149.14 602.67,150.12 602.93,151.09 603.19,152.07 603.45,153.04 603.70,154.00 603.95,154.96 604.21,155.92 604.46,156.88 604.71,157.84 604.97,158.80 605.22,159.76 605.47,160.72 605.72,161.68 605.98,162.64 606.23,163.60 606.48,164.56 606.73,165.52 606.98,166.48 607.23,167.44 607.48,168.40 607.74,169.36 607.99,170.32 608.24,171.28 608.49,172.24 608.74,173.20 608.99,174.16 609.24,175.12 609.50,176.08 609.75,177.04 610.00,178.00 610.00,178.00 613.20,123.90 613.90,118.00 614.60,111.00 615.50,117.50 616.60,119.50 617.90,119.90 678.70,119.90" fill="none" stroke="#edb120" stroke-width="2.0" stroke-linejoin="round" stroke-linecap="butt" />
<polyline points="393.50,119.90 454.00,119.90 455.50,119.30 456.70,117.00 457.60,110.30 458.30,117.50 459.00,123.90 462.20,190.80 462.20,190.80 462.38,189.84 462.56,188.87 462.75,187.91 462.93,186.95 463.11,185.98 463.29,185.02 463.47,184.06 463.66,183.09 463.84,182.13 464.02,181.16 464.21,180.20 464.39,179.23 464.57,178.27 464.76,177.30 464.94,176.34 465.12,175.38 465.30,174.41 465.49,173.45 465.67,172.49 465.85,171.52 466.03,170.56 466.21,169.60 466.39,168.63 466.57,167.67 466.75,166.71 466.93,165.75 467.11,164.79 467.29,163.83 467.47,162.87 467.65,161.91 467.82,160.96 468.00,160.00 468.18,159.02 468.36,158.04 468.54,157.04 468.72,156.04 468.90,155.04 469.07,154.03 469.25,153.01 469.43,152.00 469.61,150.98 469.79,149.96 469.96,148.94 470.14,147.95 470.32,146.73 470.49,145.46 470.67,144.40 470.84,143.74 471.02,143.02 471.19,142.01 471.37,141.04 471.54,140.04 471.71,139.08 471.88,138.23 472.05,137.14 472.23,136.29 472.40,135.57 472.56,134.46 472.73,133.38 472.90,132.49 473.07,131.55 473.23,130.54 473.40,129.89 473.62,129.11 473.83,128.01 474.05,126.89 474.26,125.95 474.46,125.02 474.67,124.08 474.88,123.05 475.08,122.03 475.29,121.19 475.49,120.37 475.70,119.53 475.91,118.57 476.12,117.56 476.34,116.65 476.55,115.81 476.77,115.01 477.00,114.11 477.22,113.10 477.45,112.13 477.68,111.27 477.91,110.35 478.14,109.45 478.38,108.40 478.62,107.25 478.86,106.28 479.10,105.36 479.34,104.52 479.58,103.70 479.82,102.74 480.07,101.65 480.31,100.53 480.56,99.63 480.81,98.86 481.05,97.93 481.30,96.93 481.57,95.97 481.83,94.92 482.10,93.72 482.36,92.79 482.62,91.94 482.88,90.87 483.15,89.95 483.41,89.23 483.69,88.31 483.97,87.30 484.25,86.35 484.55,85.37 484.85,84.41 485.17,83.55 485.50,82.80 485.83,81.97 486.17,80.95 486.51,79.99 486.86,79.06 487.21,78.13 487.58,77.42 487.95,76.62 488.33,75.69 488.71,74.85 489.10,74.04 489.51,73.34 489.92,72.52 490.34,71.41 490.76,70.40 491.20,69.64 491.69,68.77 492.18,67.94 492.68,67.36 493.19,66.73 493.71,65.85 494.24,64.85 494.78,63.94 495.33,63.16 495.89,62.48 496.47,61.83 497.07,61.06 497.68,60.26 498.30,59.48 498.86,58.82 499.43,58.19 500.02,57.41 500.63,56.55 501.25,55.82 501.87,55.18 502.51,54.46 503.16,53.67 503.81,52.88 504.47,51.98 505.13,51.09 505.79,50.39 506.46,49.79 507.12,49.04 507.79,48.41 508.45,47.97 509.10,47.34 509.91,46.67 510.70,46.17 511.48,45.61 512.25,45.04 513.04,44.48 513.83,44.07 514.65,43.65 515.50,43.22 516.38,42.83 517.32,42.30 518.30,41.85 519.11,41.72 519.96,41.56 520.85,41.27 521.76,41.06 522.70,41.08 523.66,41.03 524.64,40.75 525.64,40.54 526.65,40.62 527.67,40.66 528.70,40.56 529.73,40.41 530.76,40.28 531.79,40.35 532.81,40.47 533.82,40.46 534.82,40.41 535.80,40.25 536.40,40.17 537.38,40.20 538.38,40.15 539.39,40.31 540.41,40.62 541.44,40.56 542.47,40.40 543.50,40.51 544.53,40.56 545.55,40.56 546.56,40.72 547.56,40.92 548.54,40.98 549.50,40.87 550.44,40.97 551.35,41.11 552.24,41.28 553.09,41.80 553.90,42.15 554.88,42.30 555.82,42.62 556.70,43.04 557.55,43.44 558.37,43.92 559.16,44.42 559.95,44.95 560.72,45.64 561.50,46.40 562.29,46.96 563.10,47.34 563.75,47.76 564.41,48.38 565.08,49.12 565.74,49.84 566.41,50.36 567.07,50.90 567.73,51.69 568.39,52.72 569.04,53.73 569.69,54.48 570.33,55.03 570.95,55.64 571.57,56.35 572.18,57.00 572.77,57.83 573.34,58.80 573.90,59.55 574.52,60.31 575.13,61.16 575.73,62.12 576.31,62.88 576.87,63.41 577.42,64.08 577.96,64.98 578.49,65.99 579.01,66.80 579.52,67.58 580.02,68.48 580.51,69.12 581.00,69.62 581.44,70.36 581.86,71.38 582.28,72.32 582.69,73.12 583.10,74.07 583.49,75.01 583.87,75.81 584.25,76.76 584.62,77.71 584.99,78.42 585.34,79.15 585.69,80.10 586.03,81.16 586.37,82.09 586.70,82.68 587.03,83.41 587.35,84.49 587.65,85.48 587.95,86.38 588.23,87.37 588.51,88.39 588.79,89.29 589.05,90.05 589.32,90.93 589.58,91.94 589.84,93.00 590.10,94.12 590.37,95.08 590.63,96.04 590.90,97.12 591.15,98.03 591.39,98.94 591.64,99.81 591.89,100.62 592.13,101.52 592.38,102.42 592.62,103.29 592.86,104.36 593.10,105.48 593.34,106.38 593.58,107.36 593.82,108.45 594.06,109.30 594.29,110.26 594.52,111.37 594.75,112.26 594.98,113.03 595.20,113.94 595.43,114.99 595.65,116.03 595.86,116.93 596.08,117.80 596.29,118.81 596.50,119.80 596.71,120.64 596.91,121.36 597.12,122.15 597.32,123.03 597.53,123.95 597.74,125.00 597.94,125.93 598.15,126.72 598.37,127.70 598.58,128.86 598.80,129.99 598.97,130.76 599.13,131.59 599.30,132.45 599.47,133.32 599.64,134.28 599.80,135.33 599.97,136.32 600.15,137.06 600.32,138.01 600.49,138.97 600.66,139.93 600.83,140.91 601.01,141.89 601.18,142.89 601.36,143.88 601.53,144.89 601.71,145.90 601.88,146.91 602.06,147.93 602.24,148.94 602.41,149.96 602.59,150.98 602.77,152.00 602.95,153.01 603.13,154.03 603.30,155.04 603.48,156.04 603.66,157.04 603.84,158.04 604.02,159.02 604.20,160.00 604.38,160.96 604.55,161.91 604.73,162.87 604.91,163.83 605.09,164.79 605.27,165.75 605.45,166.71 605.63,167.67 605.81,168.63 605.99,169.60 606.17,170.56 606.35,171.52 606.53,172.49 606.71,173.45 606.90,174.41 607.08,175.38 607.26,176.34 607.44,177.30 607.63,178.27 607.81,179.23 607.99,180.20 608.18,181.16 608.36,182.13 608.54,183.09 608.73,184.06 608.91,185.02 609.09,185.98 609.27,186.95 609.45,187.91 609.64,188.87 609.82,189.84 610.00,190.80 610.00,190.80 613.20,123.90 613.90,117.50 614.60,110.30 615.50,117.00 616.70,119.30 618.20,119.90 678.70,119.90" fill="none" stroke="#ff0000" stroke-width="2.0" stroke-linejoin="round" stroke-linecap="butt" />
<polyline points="393.50,119.90 454.00,119.90 455.50,119.00 456.70,116.50 457.60,111.50 458.30,117.50 459.00,123.90 462.20,190.80 462.20,190.80 462.33,189.84 462.47,188.87 462.60,187.91 462.74,186.95 462.87,185.98 463.01,185.02 463.14,184.06 463.28,183.09 463.41,182.13 463.55,181.16 463.68,180.20 463.82,179.23 463.95,178.27 464.09,177.30 464.22,176.34 464.36,175.38 464.49,174.41 464.63,173.45 464.76,172.48 464.90,171.52 465.03,170.56 465.17,169.60 465.30,168.63 465.44,167.67 465.57,166.71 465.70,165.75 465.84,164.79 465.97,163.83 466.10,162.87 466.24,161.91 466.37,160.96 466.50,160.00 466.63,159.02 466.77,158.04 466.90,157.06 467.03,156.07 467.17,155.07 467.30,154.08 467.43,153.08 467.56,152.08 467.70,151.09 467.83,150.09 467.96,149.09 468.09,148.09 468.22,147.09 468.35,146.09 468.48,145.10 468.61,144.11 468.75,143.13 468.88,142.14 469.01,141.17 469.14,140.19 469.27,139.23 469.40,138.27 469.53,137.31 469.67,136.37 469.80,135.43 469.93,134.50 470.06,133.34 470.20,132.49 470.33,131.73 470.47,130.87 470.60,130.08 470.76,128.99 470.93,127.84 471.09,126.88 471.25,125.99 471.40,125.14 471.56,124.06 471.72,122.89 471.88,121.93 472.04,121.02 472.20,120.15 472.36,119.28 472.52,118.37 472.69,117.45 472.85,116.41 473.02,115.22 473.19,114.07 473.37,113.16 473.55,112.48 473.73,111.76 473.91,110.82 474.10,109.72 474.30,108.62 474.51,107.58 474.72,106.47 474.93,105.45 475.15,104.63 475.37,103.68 475.59,102.71 475.82,101.83 476.04,100.76 476.27,99.75 476.50,98.98 476.73,98.08 476.97,96.96 477.20,95.79 477.44,94.65 477.68,93.74 477.92,93.01 478.16,92.17 478.40,91.34 478.67,90.49 478.95,89.49 479.22,88.47 479.50,87.38 479.77,86.27 480.05,85.39 480.34,84.37 480.62,83.29 480.91,82.50 481.20,81.72 481.49,80.81 481.79,79.75 482.09,78.62 482.39,77.71 482.70,76.92 483.06,75.99 483.40,75.13 483.75,74.28 484.10,73.27 484.46,72.23 484.82,71.49 485.20,70.72 485.59,69.63 486.00,68.52 486.44,67.72 486.90,66.94 487.39,66.09 487.91,65.35 488.44,64.69 488.99,64.15 489.56,63.52 490.14,62.66 490.74,61.88 491.35,61.27 491.97,60.57 492.60,59.94 493.21,59.39 493.83,58.55 494.46,57.81 495.10,57.42 495.75,56.99 496.42,56.32 497.10,55.66 497.80,55.02 498.51,54.39 499.25,54.04 500.00,53.58 500.83,52.90 501.70,52.37 502.58,51.91 503.49,51.67 504.42,51.55 505.36,51.32 506.30,51.21 507.24,51.13 508.17,50.99 509.10,50.95 510.00,50.84 510.88,50.57 511.75,50.45 512.62,50.31 513.50,49.96 514.40,49.60 515.32,49.44 516.27,49.64 517.26,49.77 518.30,49.76 519.13,49.84 520.00,49.78 520.89,49.57 521.81,49.34 522.75,49.22 523.72,49.31 524.70,49.37 525.69,49.31 526.70,49.24 527.71,49.28 528.73,49.26 529.76,49.12 530.78,49.17 531.80,49.35 532.82,49.46 533.82,49.44 534.82,49.30 535.80,49.15 536.40,49.20 537.38,49.43 538.38,49.48 539.38,49.34 540.40,49.17 541.42,49.20 542.44,49.39 543.47,49.41 544.49,49.48 545.50,49.46 546.51,49.18 547.50,49.14 548.48,49.35 549.45,49.37 550.39,49.25 551.31,49.26 552.20,49.30 553.07,49.37 553.90,49.53 554.94,49.71 555.93,49.87 556.88,50.01 557.80,50.04 558.70,49.99 559.58,50.00 560.45,49.97 561.32,49.98 562.20,50.29 563.10,50.72 564.03,50.85 564.96,50.94 565.90,51.35 566.84,51.61 567.78,51.64 568.71,51.81 569.62,52.02 570.50,52.41 571.37,52.97 572.20,53.28 572.95,53.58 573.69,54.07 574.40,54.57 575.10,55.19 575.78,55.87 576.45,56.42 577.10,57.04 577.74,57.86 578.37,58.65 578.99,59.20 579.60,59.83 580.23,60.58 580.85,61.21 581.46,61.97 582.06,62.82 582.64,63.50 583.21,64.21 583.76,64.97 584.29,65.55 584.81,66.09 585.30,66.84 585.76,67.84 586.20,68.77 586.61,69.65 587.00,70.70 587.38,71.63 587.74,72.33 588.10,73.08 588.45,74.07 588.80,74.98 589.14,75.78 589.50,76.85 589.81,77.72 590.11,78.54 590.41,79.72 590.71,80.89 591.00,81.65 591.29,82.34 591.58,83.35 591.86,84.40 592.15,85.29 592.43,86.28 592.70,87.31 592.98,88.40 593.25,89.40 593.53,90.27 593.80,91.37 594.04,92.31 594.28,93.03 594.52,93.86 594.76,94.90 595.00,95.72 595.23,96.41 595.47,97.42 595.70,98.52 595.93,99.55 596.16,100.58 596.38,101.71 596.61,102.95 596.83,103.96 597.05,104.86 597.27,106.02 597.48,107.10 597.69,107.82 597.90,108.59 598.10,109.75 598.29,110.78 598.47,111.54 598.65,112.50 598.83,113.63 599.01,114.63 599.18,115.51 599.35,116.33 599.51,117.14 599.68,118.09 599.84,119.15 600.00,120.00 600.16,120.96 600.32,121.92 600.48,122.89 600.64,123.87 600.80,124.86 600.95,125.87 601.11,126.88 601.27,127.91 601.44,128.95 601.60,130.00 601.73,130.88 601.87,131.77 602.00,132.67 602.14,133.58 602.27,134.50 602.40,135.43 602.53,136.37 602.67,137.31 602.80,138.27 602.93,139.23 603.06,140.19 603.19,141.17 603.32,142.14 603.45,143.13 603.59,144.11 603.72,145.10 603.85,146.09 603.98,147.09 604.11,148.09 604.24,149.09 604.37,150.09 604.50,151.09 604.64,152.08 604.77,153.08 604.90,154.08 605.03,155.07 605.17,156.07 605.30,157.06 605.43,158.04 605.57,159.02 605.70,160.00 605.83,160.96 605.96,161.91 606.10,162.87 606.23,163.83 606.36,164.79 606.50,165.75 606.63,166.71 606.76,167.67 606.90,168.63 607.03,169.60 607.17,170.56 607.30,171.52 607.44,172.48 607.57,173.45 607.71,174.41 607.84,175.38 607.98,176.34 608.11,177.30 608.25,178.27 608.38,179.23 608.52,180.20 608.65,181.16 608.79,182.13 608.92,183.09 609.06,184.06 609.19,185.02 609.33,185.98 609.46,186.95 609.60,187.91 609.73,188.87 609.87,189.84 610.00,190.80 610.00,190.80 613.20,123.90 613.90,117.50 614.60,111.50 615.50,116.50 616.70,119.00 618.20,119.90 678.70,119.90" fill="none" stroke="#a2142f" stroke-width="2.0" stroke-linejoin="round" stroke-linecap="butt" />
<polygon points="506.1,154.9 515.5,178.7 515.5,190.4 505.3,164.8" fill="#1f9a86"/>
<polygon points="515.5,178.7 566.6,178.7 565,189.6 515.5,190.4" fill="#2bb8a0"/>
<polygon points="506.10,154.90 507.63,154.90 517.20,178.70 515.50,178.70" fill="#3fffff"/>
<polygon points="506.87,154.90 508.40,154.90 518.05,178.70 516.35,178.70" fill="#3cffff"/>
<polygon points="507.63,154.90 509.16,154.90 518.91,178.70 517.20,178.70" fill="#3affff"/>
<polygon points="508.40,154.90 509.93,154.90 519.76,178.70 518.05,178.70" fill="#37ffff"/>
<polygon points="509.16,154.90 510.69,154.90 520.61,178.70 518.91,178.70" fill="#35ffff"/>
<polygon points="509.93,154.90 511.46,154.90 521.46,178.70 519.76,178.70" fill="#32ffff"/>
<polygon points="510.69,154.90 512.22,154.90 522.31,178.70 520.61,178.70" fill="#20aaff"/>
<polygon points="511.46,154.90 512.99,154.90 523.16,178.70 521.46,178.70" fill="#0000ff"/>
<polygon points="512.22,154.90 513.75,154.90 524.02,178.70 522.31,178.70" fill="#0000ff"/>
<polygon points="512.99,154.90 514.51,154.90 524.87,178.70 523.16,178.70" fill="#20ffff"/>
<polygon points="513.75,154.90 515.28,154.90 525.72,178.70 524.02,178.70" fill="#2effff"/>
<polygon points="514.51,154.90 516.05,154.90 526.57,178.70 524.87,178.70" fill="#3cffff"/>
<polygon points="515.28,154.90 516.81,154.90 527.42,178.70 525.72,178.70" fill="#4affff"/>
<polygon points="516.05,154.90 517.58,154.90 528.27,178.70 526.57,178.70" fill="#80ffc4"/>
<polygon points="516.81,154.90 518.34,154.90 529.13,178.70 527.42,178.70" fill="#d0ff61"/>
<polygon points="517.58,154.90 519.11,154.90 529.98,178.70 528.27,178.70" fill="#f9fd2c"/>
<polygon points="518.34,154.90 519.87,154.90 530.83,178.70 529.13,178.70" fill="#faf923"/>
<polygon points="519.11,154.90 520.63,154.90 531.68,178.70 529.98,178.70" fill="#fbf41a"/>
<polygon points="519.87,154.90 521.40,154.90 532.53,178.70 530.83,178.70" fill="#fdf011"/>
<polygon points="520.63,154.90 522.16,154.90 533.38,178.70 531.68,178.70" fill="#feec08"/>
<polygon points="521.40,154.90 522.93,154.90 534.24,178.70 532.53,178.70" fill="#ffe700"/>
<polygon points="522.16,154.90 523.70,154.90 535.09,178.70 533.38,178.70" fill="#ffd900"/>
<polygon points="522.93,154.90 524.46,154.90 535.94,178.70 534.24,178.70" fill="#ffcc00"/>
<polygon points="523.70,154.90 525.23,154.90 536.79,178.70 535.09,178.70" fill="#ffbf00"/>
<polygon points="524.46,154.90 525.99,154.90 537.64,178.70 535.94,178.70" fill="#ffb100"/>
<polygon points="525.23,154.90 526.75,154.90 538.50,178.70 536.79,178.70" fill="#ffa800"/>
<polygon points="525.99,154.90 527.52,154.90 539.35,178.70 537.64,178.70" fill="#ffa600"/>
<polygon points="526.75,154.90 528.28,154.90 540.20,178.70 538.50,178.70" fill="#ffa400"/>
<polygon points="527.52,154.90 529.05,154.90 541.05,178.70 539.35,178.70" fill="#ffa200"/>
<polygon points="528.28,154.90 529.82,154.90 541.90,178.70 540.20,178.70" fill="#ffa100"/>
<polygon points="529.05,154.90 530.58,154.90 542.75,178.70 541.05,178.70" fill="#ffa000"/>
<polygon points="529.82,154.90 531.35,154.90 543.61,178.70 541.90,178.70" fill="#ffa000"/>
<polygon points="530.58,154.90 532.11,154.90 544.46,178.70 542.75,178.70" fill="#ffa000"/>
<polygon points="531.35,154.90 532.88,154.90 545.31,178.70 543.61,178.70" fill="#ffa000"/>
<polygon points="532.11,154.90 533.64,154.90 546.16,178.70 544.46,178.70" fill="#ffa000"/>
<polygon points="532.88,154.90 534.40,154.90 547.01,178.70 545.31,178.70" fill="#ffa000"/>
<polygon points="533.64,154.90 535.17,154.90 547.86,178.70 546.16,178.70" fill="#ffa000"/>
<polygon points="534.40,154.90 535.94,154.90 548.72,178.70 547.01,178.70" fill="#ffa300"/>
<polygon points="535.17,154.90 536.70,154.90 549.57,178.70 547.86,178.70" fill="#ffae00"/>
<polygon points="535.94,154.90 537.47,154.90 550.42,178.70 548.72,178.70" fill="#ffba00"/>
<polygon points="536.70,154.90 538.23,154.90 551.27,178.70 549.57,178.70" fill="#ffc500"/>
<polygon points="537.47,154.90 539.00,154.90 552.12,178.70 550.42,178.70" fill="#ffd800"/>
<polygon points="538.23,154.90 539.76,154.90 552.97,178.70 551.27,178.70" fill="#ffef00"/>
<polygon points="539.00,154.90 540.52,154.90 553.83,178.70 552.12,178.70" fill="#ffff04"/>
<polygon points="539.76,154.90 541.29,154.90 554.68,178.70 552.97,178.70" fill="#ffff11"/>
<polygon points="540.52,154.90 542.06,154.90 555.53,178.70 553.83,178.70" fill="#ffff1f"/>
<polygon points="541.29,154.90 542.82,154.90 556.38,178.70 554.68,178.70" fill="#ffff2c"/>
<polygon points="542.06,154.90 543.59,154.90 557.23,178.70 555.53,178.70" fill="#ffff39"/>
<polygon points="542.82,154.90 544.35,154.90 558.08,178.70 556.38,178.70" fill="#d2ff6d"/>
<polygon points="543.59,154.90 545.12,154.90 558.94,178.70 557.23,178.70" fill="#77ffc8"/>
<polygon points="544.35,154.90 545.88,154.90 559.79,178.70 558.08,178.70" fill="#3affff"/>
<polygon points="545.12,154.90 546.64,154.90 560.64,178.70 558.94,178.70" fill="#2cffff"/>
<polygon points="545.88,154.90 547.41,154.90 561.49,178.70 559.79,178.70" fill="#19c4ff"/>
<polygon points="546.64,154.90 548.17,154.90 562.34,178.70 560.64,178.70" fill="#0000ff"/>
<polygon points="547.41,154.90 548.94,154.90 563.19,178.70 561.49,178.70" fill="#0000ff"/>
<polygon points="548.17,154.90 549.71,154.90 564.05,178.70 562.34,178.70" fill="#25c4ff"/>
<polygon points="548.94,154.90 550.47,154.90 564.90,178.70 563.19,178.70" fill="#33ffff"/>
<polygon points="549.71,154.90 551.24,154.90 565.75,178.70 564.05,178.70" fill="#37ffff"/>
<polygon points="550.47,154.90 552.00,154.90 566.60,178.70 564.90,178.70" fill="#3affff"/>
<polygon points="551.24,154.90 552.00,154.90 566.60,178.70 565.75,178.70" fill="#3effff"/>
<path d="M522.1,178.7 A19.69999999999999,7.700000000000017 0 0 0 561.5,178.7 Z" fill="url(#pb)"/>
<path d="M522.1,178.7 A19.69999999999999,7.700000000000017 0 0 0 561.5,178.7" fill="none" stroke="#0010d0" stroke-width="1.5"/>
<line x1="492.9" y1="169.5" x2="571.8" y2="167.3" stroke="#000" stroke-width="1.1" stroke-dasharray="1.8,1.2"/>
<text x="424.2" y="154.6" font-size="12.3" text-anchor="middle" font-weight="normal" >Initial Ge</text>
<text x="424.2" y="168.6" font-size="12.3" text-anchor="middle" font-weight="normal" >content</text>
<line x1="426" y1="122.9" x2="426" y2="134" stroke="#000" stroke-width="1"/>
<polygon points="426,141.2 421.75,133.20 426.00,133.70 430.25,133.20" fill="#000"/>
<line x1="401" y1="17.3" x2="417.5" y2="17.3" stroke="#0000ff" stroke-width="3" stroke-linecap="round"/>
<text x="423.4" y="21.3" font-size="12.4">1 mm s<tspan font-size="8" dx="-0.2" dy="-6.0">-1</tspan></text>
<line x1="401" y1="34.900000000000006" x2="417.5" y2="34.900000000000006" stroke="#00ffff" stroke-width="3" stroke-linecap="round"/>
<text x="423.4" y="38.900000000000006" font-size="12.4">10 mm s<tspan font-size="8" dx="-0.2" dy="-6.0">-1</tspan></text>
<line x1="401" y1="52.5" x2="417.5" y2="52.5" stroke="#77ac30" stroke-width="3" stroke-linecap="round"/>
<text x="423.4" y="56.5" font-size="12.4">50 mm s</text>
<line x1="585" y1="15.5" x2="602" y2="15.5" stroke="#edb120" stroke-width="3" stroke-linecap="round"/>
<text x="607.3" y="19.5" font-size="12.4">100 mm s<tspan font-size="8" dx="-0.2" dy="-6.0">-1</tspan></text>
<line x1="585" y1="33.1" x2="602" y2="33.1" stroke="#ff0000" stroke-width="3" stroke-linecap="round"/>
<text x="607.3" y="37.1" font-size="12.4">200 mm s<tspan font-size="8" dx="-0.2" dy="-6.0">-1</tspan></text>
<line x1="585" y1="50.7" x2="602" y2="50.7" stroke="#a2142f" stroke-width="3" stroke-linecap="round"/>
<text x="607.3" y="54.7" font-size="12.4">500 mm s<tspan font-size="8" dx="-0.2" dy="-6.0">-1</tspan></text>
<text x="393.9" y="217" font-size="13" text-anchor="middle" font-weight="normal" >-1.5</text>
<text x="438.56499999999994" y="217" font-size="13" text-anchor="middle" font-weight="normal" >-1</text>
<text x="485.12999999999994" y="217" font-size="13" text-anchor="middle" font-weight="normal" >-0.5</text>
<text x="535.6949999999999" y="217" font-size="13" text-anchor="middle" font-weight="normal" >0</text>
<text x="582.96" y="217" font-size="13" text-anchor="middle" font-weight="normal" >0.5</text>
<text x="630.2249999999999" y="217" font-size="13" text-anchor="middle" font-weight="normal" >1</text>
<text x="677.49" y="217" font-size="13" text-anchor="middle" font-weight="normal" >1.5</text>
<text x="388" y="196.8" font-size="13" text-anchor="end" font-weight="normal" >0.3</text>
<text x="388" y="165.4" font-size="13" text-anchor="end" font-weight="normal" >0.4</text>
<text x="388" y="125.5" font-size="13" text-anchor="end" font-weight="normal" >0.5</text>
<text x="388" y="85.60000000000001" font-size="13" text-anchor="end" font-weight="normal" >0.6</text>
<text x="388" y="45.700000000000024" font-size="13" text-anchor="end" font-weight="normal" >0.7</text>
<text x="388" y="11.4" font-size="13" text-anchor="end" font-weight="normal" >0.8</text>
<text x="527.4" y="233.7" font-size="13.7" text-anchor="middle" font-weight="normal" >Transverse position on the top surface (μm)</text>
<text transform="translate(358.8,109) rotate(-90)" text-anchor="middle" font-size="13.7">Ge molar fraction <tspan font-style="italic">x</tspan> (mol)</text>
<text x="350.7" y="12.8" font-size="16.5" text-anchor="start" font-weight="bold" >b</text>
<polyline points="46.50,349.20 65.30,350.50 84.50,352.10 97.10,351.10 123.10,352.10 146.00,352.00 157.60,353.00 167.20,355.90 176.80,358.80 184.50,358.80 203.80,360.70 213.40,364.50 230.50,368.00 231.60,365.20 232.60,368.30 252.10,373.60 263.30,356.90 266.30,356.00 270.00,355.90 325.00,355.90" fill="none" stroke="#0000ff" stroke-width="2.0" stroke-linejoin="round" stroke-linecap="butt" />
<polyline points="46.50,339.50 65.30,340.50 84.50,341.50 103.80,342.00 123.10,343.40 134.60,342.40 142.30,346.70 146.00,347.30 165.30,349.10 180.70,351.60 194.20,357.80 203.80,360.70 223.10,368.40 230.00,370.70 252.30,376.30 256.80,384.10 261.20,364.00 266.00,357.00 272.00,355.90 325.00,355.90" fill="none" stroke="#00ffff" stroke-width="2.0" stroke-linejoin="round" stroke-linecap="butt" />
<polyline points="46.50,313.20 71.00,314.50 84.50,316.40 103.80,318.90 119.20,323.20 132.70,325.50 146.00,331.80 165.30,338.50 174.90,341.40 184.50,348.20 194.20,356.80 203.80,358.80 213.40,366.50 223.10,376.10 230.00,380.70 246.00,390.60 250.10,394.10 259.00,395.20 261.20,379.60 266.80,359.50 272.00,356.00 280.00,355.90 330.40,355.90" fill="none" stroke="#77ac30" stroke-width="2.0" stroke-linejoin="round" stroke-linecap="butt" />
<polyline points="46.50,298.10 65.30,298.50 84.50,301.00 103.80,306.80 123.10,314.50 134.60,321.20 146.00,326.00 163.30,335.60 173.00,338.20 180.70,345.30 194.20,358.80 203.80,363.60 213.40,370.30 223.10,382.90 230.00,390.80 250.10,408.60 252.30,402.00 257.00,385.00 262.00,370.00 268.00,358.00 275.00,356.00 285.00,355.90 325.00,355.90" fill="none" stroke="#edb120" stroke-width="2.0" stroke-linejoin="round" stroke-linecap="butt" />
<polyline points="46.50,288.90 65.30,290.40 84.50,294.30 97.10,297.20 103.80,301.00 123.10,312.60 146.00,327.00 165.30,340.50 184.50,357.80 203.80,374.20 223.10,395.00 230.00,400.80 241.20,413.10 250.60,423.50 254.00,412.00 259.00,384.10 263.50,370.70 267.90,359.50 272.20,351.70 276.80,353.60 281.30,355.60 290.00,355.90 325.00,355.90" fill="none" stroke="#ff0000" stroke-width="2.0" stroke-linejoin="round" stroke-linecap="butt" />
<polyline points="46.50,297.20 65.30,298.10 84.50,302.00 103.80,309.70 123.10,320.30 146.00,332.80 165.30,341.40 184.50,357.80 194.20,367.40 203.80,374.20 213.40,384.80 221.10,395.00 230.00,404.20 251.20,430.90 251.90,437.60 256.80,402.00 261.20,375.20 265.70,357.30 268.10,341.70 268.90,360.40 273.40,357.90 280.50,355.90 290.00,355.90 325.20,355.90" fill="none" stroke="#a2142f" stroke-width="2.0" stroke-linejoin="round" stroke-linecap="butt" />
<polygon points="63.3,386.9 72.7,410.3 72,422.5 62.3,397.5" fill="#1f9a86"/>
<polygon points="72.7,410.3 123.8,410.3 122,420.7 72,422.5" fill="#2bb8a0"/>
<polygon points="63.30,386.90 64.81,386.90 74.40,410.30 72.70,410.30" fill="#3fffff"/>
<polygon points="64.05,386.90 65.56,386.90 75.25,410.30 73.55,410.30" fill="#3cffff"/>
<polygon points="64.81,386.90 66.32,386.90 76.11,410.30 74.40,410.30" fill="#3affff"/>
<polygon points="65.56,386.90 67.08,386.90 76.96,410.30 75.25,410.30" fill="#37ffff"/>
<polygon points="66.32,386.90 67.83,386.90 77.81,410.30 76.11,410.30" fill="#35ffff"/>
<polygon points="67.08,386.90 68.58,386.90 78.66,410.30 76.96,410.30" fill="#32ffff"/>
<polygon points="67.83,386.90 69.34,386.90 79.51,410.30 77.81,410.30" fill="#20aaff"/>
<polygon points="68.58,386.90 70.09,386.90 80.37,410.30 78.66,410.30" fill="#0000ff"/>
<polygon points="69.34,386.90 70.85,386.90 81.22,410.30 79.51,410.30" fill="#0000ff"/>
<polygon points="70.09,386.90 71.60,386.90 82.07,410.30 80.37,410.30" fill="#20ffff"/>
<polygon points="70.85,386.90 72.36,386.90 82.92,410.30 81.22,410.30" fill="#2effff"/>
<polygon points="71.60,386.90 73.11,386.90 83.77,410.30 82.07,410.30" fill="#3cffff"/>
<polygon points="72.36,386.90 73.87,386.90 84.62,410.30 82.92,410.30" fill="#4affff"/>
<polygon points="73.11,386.90 74.62,386.90 85.47,410.30 83.77,410.30" fill="#80ffc4"/>
<polygon points="73.87,386.90 75.38,386.90 86.33,410.30 84.62,410.30" fill="#d0ff61"/>
<polygon points="74.62,386.90 76.13,386.90 87.18,410.30 85.47,410.30" fill="#f9fd2c"/>
<polygon points="75.38,386.90 76.89,386.90 88.03,410.30 86.33,410.30" fill="#faf923"/>
<polygon points="76.13,386.90 77.64,386.90 88.88,410.30 87.18,410.30" fill="#fbf41a"/>
<polygon points="76.89,386.90 78.40,386.90 89.73,410.30 88.03,410.30" fill="#fdf011"/>
<polygon points="77.64,386.90 79.16,386.90 90.59,410.30 88.88,410.30" fill="#feec08"/>
<polygon points="78.40,386.90 79.91,386.90 91.44,410.30 89.73,410.30" fill="#ffe700"/>
<polygon points="79.16,386.90 80.66,386.90 92.29,410.30 90.59,410.30" fill="#ffd900"/>
<polygon points="79.91,386.90 81.42,386.90 93.14,410.30 91.44,410.30" fill="#ffcc00"/>
<polygon points="80.66,386.90 82.17,386.90 93.99,410.30 92.29,410.30" fill="#ffbf00"/>
<polygon points="81.42,386.90 82.93,386.90 94.84,410.30 93.14,410.30" fill="#ffb100"/>
<polygon points="82.17,386.90 83.69,386.90 95.69,410.30 93.99,410.30" fill="#ffa800"/>
<polygon points="82.93,386.90 84.44,386.90 96.55,410.30 94.84,410.30" fill="#ffa600"/>
<polygon points="83.69,386.90 85.19,386.90 97.40,410.30 95.69,410.30" fill="#ffa400"/>
<polygon points="84.44,386.90 85.95,386.90 98.25,410.30 96.55,410.30" fill="#ffa200"/>
<polygon points="85.19,386.90 86.70,386.90 99.10,410.30 97.40,410.30" fill="#ffa100"/>
<polygon points="85.95,386.90 87.46,386.90 99.95,410.30 98.25,410.30" fill="#ffa000"/>
<polygon points="86.70,386.90 88.22,386.90 100.81,410.30 99.10,410.30" fill="#ffa000"/>
<polygon points="87.46,386.90 88.97,386.90 101.66,410.30 99.95,410.30" fill="#ffa000"/>
<polygon points="88.22,386.90 89.72,386.90 102.51,410.30 100.81,410.30" fill="#ffa000"/>
<polygon points="88.97,386.90 90.48,386.90 103.36,410.30 101.66,410.30" fill="#ffa000"/>
<polygon points="89.72,386.90 91.23,386.90 104.21,410.30 102.51,410.30" fill="#ffa000"/>
<polygon points="90.48,386.90 91.99,386.90 105.06,410.30 103.36,410.30" fill="#ffa000"/>
<polygon points="91.23,386.90 92.75,386.90 105.91,410.30 104.21,410.30" fill="#ffa300"/>
<polygon points="91.99,386.90 93.50,386.90 106.77,410.30 105.06,410.30" fill="#ffae00"/>
<polygon points="92.75,386.90 94.25,386.90 107.62,410.30 105.91,410.30" fill="#ffba00"/>
<polygon points="93.50,386.90 95.01,386.90 108.47,410.30 106.77,410.30" fill="#ffc500"/>
<polygon points="94.25,386.90 95.76,386.90 109.32,410.30 107.62,410.30" fill="#ffd800"/>
<polygon points="95.01,386.90 96.52,386.90 110.17,410.30 108.47,410.30" fill="#ffef00"/>
<polygon points="95.76,386.90 97.27,386.90 111.03,410.30 109.32,410.30" fill="#ffff04"/>
<polygon points="96.52,386.90 98.03,386.90 111.88,410.30 110.17,410.30" fill="#ffff11"/>
<polygon points="97.27,386.90 98.78,386.90 112.73,410.30 111.03,410.30" fill="#ffff1f"/>
<polygon points="98.03,386.90 99.54,386.90 113.58,410.30 111.88,410.30" fill="#ffff2c"/>
<polygon points="98.78,386.90 100.30,386.90 114.43,410.30 112.73,410.30" fill="#ffff39"/>
<polygon points="99.54,386.90 101.05,386.90 115.28,410.30 113.58,410.30" fill="#d2ff6d"/>
<polygon points="100.29,386.90 101.81,386.90 116.14,410.30 114.43,410.30" fill="#77ffc8"/>
<polygon points="101.05,386.90 102.56,386.90 116.99,410.30 115.28,410.30" fill="#3affff"/>
<polygon points="101.80,386.90 103.31,386.90 117.84,410.30 116.13,410.30" fill="#2cffff"/>
<polygon points="102.56,386.90 104.07,386.90 118.69,410.30 116.99,410.30" fill="#19c4ff"/>
<polygon points="103.31,386.90 104.82,386.90 119.54,410.30 117.84,410.30" fill="#0000ff"/>
<polygon points="104.07,386.90 105.58,386.90 120.39,410.30 118.69,410.30" fill="#0000ff"/>
<polygon points="104.82,386.90 106.34,386.90 121.25,410.30 119.54,410.30" fill="#25c4ff"/>
<polygon points="105.58,386.90 107.09,386.90 122.10,410.30 120.39,410.30" fill="#33ffff"/>
<polygon points="106.33,386.90 107.84,386.90 122.95,410.30 121.25,410.30" fill="#37ffff"/>
<polygon points="107.09,386.90 108.60,386.90 123.80,410.30 122.10,410.30" fill="#3affff"/>
<polygon points="107.84,386.90 108.60,386.90 123.80,410.30 122.95,410.30" fill="#3effff"/>
<path d="M78.8,410.3 A19.75,7.899999999999977 0 0 0 118.3,410.3 Z" fill="url(#pc)"/>
<path d="M78.8,410.3 A19.75,7.899999999999977 0 0 0 118.3,410.3" fill="none" stroke="#0010d0" stroke-width="1.5"/>
<line x1="98.6" y1="400.6" x2="98.6" y2="430.4" stroke="#000" stroke-width="1.1" stroke-dasharray="1.8,1.2"/>
<text x="299" y="393.7" font-size="12.3" text-anchor="middle" font-weight="normal" >Initial Ge</text>
<text x="299" y="408.3" font-size="12.3" text-anchor="middle" font-weight="normal" >content</text>
<line x1="301.2" y1="362.3" x2="301.2" y2="374" stroke="#000" stroke-width="1"/>
<polygon points="301.2,380.8 296.95,372.80 301.20,373.30 305.45,372.80" fill="#000"/>
<text x="90.6" y="446" font-size="12.4" text-anchor="start" font-weight="normal" >Depth of the melt region</text>
<line x1="225.2" y1="442.9" x2="238" y2="442.9" stroke="#000" stroke-width="1"/>
<polygon points="243.8,442.9 235.80,446.40 236.30,442.90 235.80,439.40" fill="#000"/>
<line x1="146.8" y1="271.1" x2="163" y2="271.1" stroke="#0000ff" stroke-width="3" stroke-linecap="round"/>
<text x="169.6" y="275.1" font-size="12.4">1 mm s<tspan font-size="8" dx="-0.2" dy="-6.0">-1</tspan></text>
<line x1="146.8" y1="288.70000000000005" x2="163" y2="288.70000000000005" stroke="#00ffff" stroke-width="3" stroke-linecap="round"/>
<text x="169.6" y="292.70000000000005" font-size="12.4">10 mm s<tspan font-size="8" dx="-0.2" dy="-6.0">-1</tspan></text>
<line x1="146.8" y1="306.3" x2="163" y2="306.3" stroke="#77ac30" stroke-width="3" stroke-linecap="round"/>
<text x="169.6" y="310.3" font-size="12.4">50 mm s</text>
<line x1="239" y1="271.1" x2="256" y2="271.1" stroke="#edb120" stroke-width="3" stroke-linecap="round"/>
<text x="261.5" y="275.1" font-size="12.4">100 mm s<tspan font-size="8" dx="-0.2" dy="-6.0">-1</tspan></text>
<line x1="239" y1="288.70000000000005" x2="256" y2="288.70000000000005" stroke="#ff0000" stroke-width="3" stroke-linecap="round"/>
<text x="261.5" y="292.70000000000005" font-size="12.4">200 mm s<tspan font-size="8" dx="-0.2" dy="-6.0">-1</tspan></text>
<line x1="239" y1="306.3" x2="256" y2="306.3" stroke="#a2142f" stroke-width="3" stroke-linecap="round"/>
<text x="261.5" y="310.3" font-size="12.4">500 mm s<tspan font-size="8" dx="-0.2" dy="-6.0">-1</tspan></text>
<text x="47.6" y="471.3" font-size="13" text-anchor="middle" font-weight="normal" >0</text>
<text x="102.88" y="471.3" font-size="13" text-anchor="middle" font-weight="normal" >0.1</text>
<text x="159.76" y="471.3" font-size="13" text-anchor="middle" font-weight="normal" >0.2</text>
<text x="216.64" y="471.3" font-size="13" text-anchor="middle" font-weight="normal" >0.3</text>
<text x="273.52" y="471.3" font-size="13" text-anchor="middle" font-weight="normal" >0.4</text>
<text x="330.4" y="471.3" font-size="13" text-anchor="middle" font-weight="normal" >0.5</text>
<text x="39.5" y="462.1" font-size="13" text-anchor="end" font-weight="normal" >0.2</text>
<text x="39.5" y="428.63300000000004" font-size="13" text-anchor="end" font-weight="normal" >0.3</text>
<text x="39.5" y="395.166" font-size="13" text-anchor="end" font-weight="normal" >0.4</text>
<text x="39.5" y="361.699" font-size="13" text-anchor="end" font-weight="normal" >0.5</text>
<text x="39.5" y="328.232" font-size="13" text-anchor="end" font-weight="normal" >0.6</text>
<text x="39.5" y="294.76500000000004" font-size="13" text-anchor="end" font-weight="normal" >0.7</text>
<text x="39.5" y="266.2" font-size="13" text-anchor="end" font-weight="normal" >0.8</text>
<text x="185.4" y="489.4" font-size="13.7" text-anchor="middle" font-weight="normal" >Vertical position along the cross-section (μm)</text>
<text transform="translate(9.8,359.6) rotate(-90)" text-anchor="middle" font-size="13.7">Ge molar fraction <tspan font-style="italic">x</tspan> (mol)</text>
<text x="1.3" y="266.6" font-size="16.5" text-anchor="start" font-weight="bold" >c</text>
<polyline points="393.50,454.90 514.70,454.90 514.70,454.90 515.30,454.20 515.92,453.55 516.53,452.89 517.13,452.20 517.69,451.41 518.20,450.50 518.52,449.77 518.80,448.97 519.07,448.10 519.31,447.18 519.53,446.21 519.74,445.21 519.93,444.18 520.12,443.13 520.29,442.08 520.47,441.03 520.64,440.00 520.82,438.98 521.00,438.00 521.18,437.04 521.34,436.08 521.50,435.12 521.65,434.16 521.79,433.19 521.93,432.23 522.07,431.27 522.21,430.31 522.35,429.34 522.50,428.38 522.66,427.42 522.82,426.46 523.00,425.50 523.18,424.52 523.36,423.50 523.53,422.46 523.70,421.40 523.88,420.35 524.06,419.30 524.25,418.26 524.46,417.26 524.68,416.29 524.92,415.37 525.19,414.51 525.48,413.72 525.80,413.00 526.32,412.16 526.91,411.47 527.54,410.87 528.17,410.29 528.77,409.66 529.30,408.90 529.69,408.17 530.06,407.36 530.41,406.50 530.73,405.60 531.04,404.69 531.32,403.78 531.57,402.88 531.80,402.01 532.00,401.20 532.19,400.28 532.33,399.40 532.43,398.55 532.51,397.70 532.60,396.86 532.70,396.00 532.70,396.00 537.30,320.00 539.60,262.00 540.10,259.80 540.80,262.00 541.40,320.00 543.10,395.00 543.10,395.00 543.15,395.99 543.20,396.98 543.25,397.97 543.30,398.96 543.35,399.95 543.41,400.94 543.46,401.93 543.51,402.92 543.56,403.91 543.61,404.90 543.66,405.89 543.72,406.88 543.77,407.87 543.82,408.86 543.87,409.85 543.92,410.84 543.97,411.83 544.02,412.82 544.07,413.81 544.12,414.80 544.17,415.79 544.22,416.78 544.27,417.77 544.32,418.75 544.36,419.74 544.41,420.73 544.45,421.71 544.50,422.70 544.54,423.69 544.58,424.71 544.61,425.75 544.64,426.81 544.67,427.89 544.70,428.98 544.72,430.08 544.74,431.18 544.76,432.30 544.78,433.41 544.81,434.52 544.83,435.62 544.85,436.72 544.87,437.80 544.90,438.87 544.92,439.92 544.95,440.95 544.99,441.96 545.02,442.93 545.06,443.88 545.11,444.80 545.16,445.68 545.22,446.51 545.28,447.31 545.35,448.06 545.43,448.76 545.51,449.41 545.60,450.00 545.81,451.26 546.02,452.37 546.27,453.32 546.58,454.07 547.00,454.60 547.60,454.86 548.30,454.88 549.00,454.90 549.00,454.90 678.50,454.90" fill="none" stroke="#0000ff" stroke-width="2.0" stroke-linejoin="round" stroke-linecap="butt" />
<polyline points="393.50,454.90 503.00,454.90 503.00,454.90 503.81,454.35 504.64,453.83 505.47,453.29 506.26,452.70 507.00,452.00 507.57,451.34 508.10,450.63 508.61,449.87 509.09,449.06 509.57,448.20 510.03,447.28 510.50,446.30 510.83,445.57 511.16,444.80 511.48,444.00 511.81,443.15 512.13,442.28 512.44,441.39 512.75,440.47 513.05,439.54 513.35,438.59 513.64,437.63 513.92,436.67 514.19,435.71 514.45,434.75 514.70,433.80 514.93,432.90 515.14,431.99 515.34,431.07 515.53,430.14 515.71,429.20 515.89,428.26 516.06,427.31 516.22,426.35 516.38,425.39 516.54,424.43 516.69,423.46 516.85,422.49 517.01,421.52 517.17,420.55 517.33,419.57 517.50,418.60 517.67,417.64 517.84,416.69 518.00,415.73 518.17,414.77 518.33,413.82 518.50,412.86 518.66,411.90 518.83,410.93 518.99,409.96 519.15,408.98 519.32,408.00 519.48,407.00 519.64,406.00 519.81,404.99 519.97,403.97 520.14,402.94 520.30,401.90 520.44,401.01 520.58,400.11 520.72,399.21 520.86,398.29 520.99,397.37 521.13,396.45 521.27,395.52 521.41,394.58 521.55,393.64 521.69,392.69 521.82,391.74 521.96,390.78 522.10,389.82 522.24,388.85 522.38,387.88 522.52,386.90 522.66,385.93 522.80,384.94 522.94,383.96 523.08,382.97 523.22,381.98 523.36,380.99 523.50,380.00 523.63,379.07 523.76,378.13 523.89,377.19 524.02,376.24 524.15,375.28 524.28,374.31 524.41,373.34 524.54,372.36 524.68,371.38 524.81,370.40 524.94,369.42 525.07,368.43 525.20,367.44 525.33,366.45 525.46,365.47 525.60,364.48 525.73,363.49 525.86,362.51 526.00,361.53 526.13,360.56 526.27,359.59 526.40,358.62 526.54,357.66 526.68,356.71 526.82,355.76 526.96,354.83 527.10,353.90 527.25,352.91 527.40,351.91 527.56,350.92 527.71,349.93 527.86,348.95 528.01,347.96 528.16,346.98 528.31,346.01 528.47,345.03 528.62,344.06 528.77,343.10 528.93,342.14 529.09,341.19 529.25,340.24 529.41,339.29 529.57,338.36 529.74,337.43 529.91,336.50 530.08,335.59 530.26,334.68 530.43,333.78 530.62,332.88 530.80,332.00 531.02,330.97 531.25,329.95 531.49,328.95 531.73,327.97 531.97,326.99 532.22,326.02 532.47,325.07 532.72,324.12 532.97,323.17 533.23,322.23 533.48,321.29 533.74,320.35 533.99,319.41 534.25,318.46 534.50,317.51 534.75,316.56 535.00,315.60 535.00,315.60 545.60,260.50 546.10,259.80 546.60,261.00 547.90,320.00 550.10,395.00 550.10,395.00 550.14,396.00 550.18,397.00 550.22,398.01 550.26,399.02 550.30,400.04 550.34,401.06 550.37,402.09 550.41,403.12 550.45,404.15 550.49,405.18 550.53,406.22 550.57,407.25 550.61,408.29 550.64,409.32 550.68,410.36 550.72,411.39 550.76,412.42 550.80,413.44 550.84,414.46 550.88,415.48 550.92,416.49 550.96,417.49 550.99,418.49 551.04,419.48 551.08,420.46 551.12,421.43 551.16,422.40 551.20,423.35 551.24,424.30 551.28,425.23 551.32,426.15 551.37,427.06 551.41,427.95 551.46,428.83 551.50,429.70 551.56,430.80 551.61,431.90 551.66,433.01 551.71,434.12 551.76,435.22 551.81,436.32 551.86,437.41 551.91,438.48 551.96,439.54 552.01,440.58 552.07,441.61 552.12,442.60 552.18,443.57 552.24,444.51 552.31,445.42 552.38,446.29 552.45,447.12 552.53,447.91 552.61,448.66 552.70,449.35 552.80,450.00 552.98,451.22 553.14,452.33 553.34,453.28 553.61,454.06 554.00,454.60 554.60,454.86 555.30,454.88 556.00,454.90 556.00,454.90 678.50,454.90" fill="none" stroke="#00ffff" stroke-width="2.0" stroke-linejoin="round" stroke-linecap="butt" />
<polyline points="393.50,454.90 470.00,454.90 470.00,454.90 470.86,454.84 471.72,454.81 472.58,454.79 473.43,454.75 474.29,454.67 475.15,454.53 476.00,454.30 476.87,453.99 477.75,453.61 478.64,453.18 479.52,452.70 480.39,452.15 481.24,451.56 482.04,450.90 482.80,450.20 483.40,449.56 483.99,448.88 484.55,448.15 485.09,447.38 485.60,446.58 486.10,445.74 486.58,444.86 487.04,443.96 487.48,443.03 487.90,442.08 488.30,441.10 488.61,440.28 488.90,439.43 489.17,438.55 489.42,437.64 489.66,436.71 489.88,435.76 490.09,434.79 490.29,433.80 490.48,432.80 490.67,431.80 490.84,430.78 491.02,429.76 491.19,428.74 491.37,427.72 491.54,426.71 491.72,425.70 491.90,424.70 492.07,423.77 492.24,422.83 492.41,421.89 492.57,420.94 492.73,419.99 492.89,419.03 493.05,418.08 493.20,417.12 493.35,416.15 493.50,415.19 493.64,414.22 493.78,413.26 493.92,412.29 494.06,411.32 494.19,410.36 494.32,409.39 494.45,408.43 494.58,407.46 494.70,406.50 494.82,405.54 494.93,404.56 495.03,403.58 495.13,402.60 495.23,401.61 495.32,400.63 495.41,399.64 495.49,398.65 495.58,397.66 495.66,396.68 495.74,395.70 495.83,394.72 495.91,393.76 496.00,392.80 496.09,391.86 496.19,390.92 496.29,390.00 496.39,389.09 496.50,388.20 496.63,387.19 496.76,386.19 496.90,385.21 497.03,384.24 497.17,383.29 497.31,382.35 497.45,381.41 497.60,380.49 497.75,379.56 497.91,378.65 498.07,377.74 498.24,376.82 498.42,375.91 498.60,375.00 498.80,374.07 499.02,373.16 499.24,372.26 499.48,371.37 499.72,370.49 499.96,369.61 500.21,368.73 500.45,367.84 500.70,366.94 500.94,366.02 501.17,365.07 501.39,364.10 501.60,363.10 501.76,362.23 501.92,361.34 502.06,360.44 502.19,359.51 502.32,358.57 502.44,357.61 502.56,356.64 502.68,355.67 502.79,354.68 502.91,353.69 503.03,352.69 503.15,351.69 503.29,350.70 503.42,349.70 503.57,348.70 503.73,347.72 503.91,346.73 504.10,345.76 504.30,344.80 504.51,343.87 504.73,342.94 504.97,341.99 505.21,341.04 505.46,340.09 505.72,339.13 505.99,338.18 506.26,337.22 506.54,336.27 506.82,335.33 507.11,334.39 507.41,333.45 507.70,332.53 508.00,331.62 508.30,330.72 508.60,329.84 508.90,328.98 509.20,328.13 509.50,327.30 509.80,326.50 510.17,325.54 510.54,324.61 510.92,323.71 511.30,322.83 511.68,321.96 512.07,321.12 512.46,320.29 512.85,319.46 513.24,318.65 513.63,317.84 514.02,317.03 514.41,316.22 514.80,315.40 515.22,314.48 515.64,313.53 516.05,312.57 516.46,311.62 516.87,310.67 517.28,309.74 517.70,308.85 518.13,307.99 518.57,307.20 519.03,306.46 519.50,305.80 520.12,305.03 520.74,304.32 521.38,303.68 522.05,303.14 522.75,302.71 523.50,302.40 524.33,302.29 525.20,302.39 526.11,302.60 527.05,302.83 528.02,303.00 529.00,303.00 529.84,302.88 530.73,302.72 531.65,302.50 532.58,302.24 533.52,301.93 534.43,301.58 535.31,301.19 536.14,300.77 536.90,300.30 537.61,299.72 538.23,299.03 538.80,298.26 539.33,297.46 539.87,296.68 540.42,295.94 541.02,295.30 541.70,294.80 542.54,294.46 543.46,294.29 544.44,294.21 545.43,294.17 546.38,294.09 547.25,293.89 548.00,293.50 548.62,292.86 549.14,292.03 549.57,291.08 549.96,290.08 550.34,289.12 550.74,288.26 551.20,287.60 551.99,287.02 552.80,286.63 553.60,286.00 554.01,285.44 554.41,284.75 554.80,283.97 555.19,283.11 555.57,282.18 555.94,281.21 556.32,280.22 556.71,279.23 557.10,278.25 557.50,277.30 557.86,276.48 558.22,275.63 558.58,274.75 558.96,273.86 559.33,272.95 559.71,272.04 560.08,271.13 560.46,270.24 560.84,269.37 561.21,268.54 561.58,267.74 561.94,266.99 562.30,266.30 562.82,265.34 563.31,264.43 563.80,263.59 564.30,262.82 564.83,262.12 565.40,261.50 566.16,260.90 566.96,260.44 567.79,260.03 568.60,259.60 568.60,259.60 569.40,260.00 571.80,330.00 573.00,395.00 574.40,454.90 678.50,454.90" fill="none" stroke="#77ac30" stroke-width="2.0" stroke-linejoin="round" stroke-linecap="butt" />
<polyline points="393.50,454.90 447.00,454.90 447.00,454.90 447.86,454.81 448.72,454.74 449.58,454.67 450.44,454.59 451.29,454.50 452.15,454.37 453.00,454.20 453.87,454.00 454.74,453.81 455.61,453.59 456.47,453.33 457.34,453.00 458.21,452.60 459.10,452.10 459.79,451.64 460.51,451.13 461.24,450.55 461.98,449.93 462.73,449.27 463.48,448.56 464.22,447.82 464.95,447.06 465.66,446.27 466.34,445.46 467.00,444.64 467.62,443.82 468.20,443.00 468.72,442.19 469.21,441.36 469.68,440.50 470.12,439.63 470.54,438.73 470.94,437.82 471.32,436.89 471.69,435.95 472.04,435.00 472.39,434.04 472.72,433.08 473.05,432.12 473.38,431.16 473.70,430.20 473.99,429.33 474.26,428.45 474.53,427.57 474.78,426.68 475.02,425.79 475.26,424.90 475.48,424.00 475.71,423.09 475.92,422.18 476.13,421.26 476.34,420.33 476.55,419.40 476.76,418.46 476.97,417.52 477.18,416.56 477.40,415.60 477.60,414.69 477.81,413.77 478.01,412.85 478.21,411.91 478.41,410.96 478.61,410.01 478.80,409.05 479.00,408.09 479.19,407.12 479.39,406.15 479.57,405.18 479.76,404.20 479.95,403.23 480.13,402.25 480.31,401.28 480.49,400.30 480.66,399.33 480.83,398.36 481.00,397.40 481.16,396.44 481.32,395.48 481.48,394.53 481.64,393.57 481.79,392.61 481.93,391.65 482.08,390.70 482.22,389.74 482.37,388.78 482.50,387.82 482.64,386.86 482.78,385.90 482.91,384.94 483.05,383.97 483.18,383.00 483.31,382.03 483.44,381.06 483.57,380.08 483.70,379.10 483.82,378.13 483.94,377.16 484.06,376.19 484.17,375.21 484.28,374.23 484.39,373.25 484.49,372.27 484.59,371.28 484.69,370.29 484.80,369.30 484.90,368.31 485.01,367.32 485.12,366.33 485.23,365.34 485.34,364.35 485.46,363.36 485.59,362.37 485.72,361.38 485.86,360.39 486.00,359.40 486.14,358.44 486.29,357.47 486.43,356.50 486.58,355.52 486.73,354.54 486.88,353.56 487.03,352.57 487.18,351.59 487.34,350.60 487.51,349.62 487.68,348.64 487.85,347.67 488.03,346.70 488.21,345.74 488.40,344.78 488.60,343.84 488.80,342.90 489.01,341.98 489.23,341.07 489.46,340.18 489.70,339.30 489.98,338.31 490.26,337.33 490.55,336.37 490.84,335.41 491.14,334.47 491.45,333.54 491.77,332.62 492.10,331.71 492.43,330.81 492.78,329.92 493.15,329.03 493.52,328.16 493.92,327.28 494.33,326.42 494.75,325.56 495.20,324.70 495.67,323.84 496.18,322.98 496.71,322.12 497.27,321.26 497.84,320.41 498.43,319.56 499.03,318.72 499.64,317.89 500.25,317.08 500.86,316.27 501.47,315.49 502.07,314.73 502.66,313.98 503.23,313.26 503.78,312.57 504.30,311.90 504.95,311.07 505.58,310.27 506.18,309.51 506.78,308.78 507.37,308.08 507.96,307.40 508.56,306.75 509.17,306.12 509.80,305.50 510.56,304.77 511.33,304.03 512.12,303.31 512.91,302.64 513.71,302.06 514.51,301.60 515.30,301.30 516.20,301.17 517.11,301.22 518.01,301.39 518.91,301.63 519.80,301.90 520.72,302.26 521.62,302.73 522.52,303.23 523.41,303.68 524.30,304.00 525.26,304.18 526.20,304.25 527.14,304.25 528.10,304.20 528.93,304.14 529.78,304.04 530.62,303.90 531.44,303.72 532.20,303.50 532.92,303.18 533.56,302.78 534.22,302.37 535.00,302.00 535.80,301.72 536.70,301.45 537.67,301.20 538.68,300.96 539.71,300.73 540.72,300.51 541.70,300.30 542.62,300.08 543.56,299.84 544.50,299.60 545.42,299.39 546.32,299.23 547.19,299.16 548.00,299.20 548.87,299.50 549.68,300.04 550.45,300.61 551.22,301.03 552.00,301.10 552.62,300.82 553.25,300.27 553.88,299.53 554.52,298.66 555.15,297.74 555.77,296.82 556.37,295.98 556.95,295.28 557.50,294.80 558.37,294.46 559.19,294.35 560.00,294.00 560.56,293.47 561.13,292.76 561.69,291.92 562.24,291.01 562.78,290.08 563.30,289.20 563.80,288.40 564.33,287.54 564.82,286.69 565.29,285.88 565.78,285.14 566.30,284.50 567.04,283.87 567.81,283.38 568.60,282.90 569.44,282.42 570.30,281.94 571.10,281.30 571.62,280.65 572.09,279.88 572.53,279.03 572.96,278.16 573.40,277.30 573.79,276.56 574.17,275.81 574.55,275.05 574.94,274.27 575.35,273.45 575.80,272.60 576.19,271.88 576.62,271.11 577.07,270.31 577.55,269.49 578.03,268.65 578.51,267.81 578.99,266.99 579.45,266.19 579.89,265.42 580.30,264.70 580.79,263.83 581.25,263.01 581.69,262.23 582.13,261.46 582.56,260.69 583.00,259.90 583.00,259.90 584.50,261.50 585.30,330.00 585.50,454.90 678.50,454.90" fill="none" stroke="#edb120" stroke-width="2.0" stroke-linejoin="round" stroke-linecap="butt" />
<polyline points="393.50,454.90 442.00,454.90 442.00,454.90 442.89,454.80 443.78,454.73 444.68,454.69 445.57,454.64 446.46,454.57 447.35,454.47 448.24,454.32 449.12,454.10 450.00,453.80 450.78,453.46 451.58,453.07 452.38,452.63 453.19,452.14 454.00,451.62 454.80,451.06 455.58,450.46 456.35,449.85 457.09,449.21 457.80,448.55 458.47,447.88 459.10,447.20 459.69,446.51 460.25,445.79 460.77,445.04 461.27,444.27 461.75,443.48 462.20,442.67 462.64,441.84 463.05,440.99 463.46,440.13 463.85,439.26 464.23,438.39 464.60,437.50 464.94,436.66 465.25,435.81 465.55,434.95 465.82,434.08 466.09,433.20 466.34,432.30 466.58,431.39 466.82,430.47 467.05,429.54 467.28,428.60 467.50,427.64 467.73,426.67 467.96,425.69 468.20,424.70 468.41,423.82 468.62,422.92 468.82,422.01 469.02,421.09 469.22,420.15 469.42,419.20 469.61,418.24 469.81,417.27 470.00,416.30 470.19,415.32 470.38,414.34 470.57,413.35 470.76,412.37 470.95,411.38 471.14,410.39 471.33,409.41 471.52,408.43 471.71,407.46 471.90,406.50 472.09,405.53 472.29,404.55 472.48,403.56 472.68,402.56 472.87,401.55 473.07,400.54 473.26,399.53 473.45,398.52 473.65,397.52 473.84,396.52 474.03,395.53 474.22,394.55 474.41,393.59 474.60,392.64 474.78,391.70 474.97,390.79 475.15,389.90 475.32,389.04 475.50,388.20 475.72,387.17 475.94,386.19 476.15,385.26 476.36,384.35 476.57,383.47 476.77,382.60 476.98,381.73 477.18,380.84 477.39,379.93 477.59,378.99 477.80,378.00 477.97,377.15 478.15,376.27 478.32,375.38 478.50,374.47 478.68,373.55 478.85,372.62 479.03,371.67 479.20,370.72 479.38,369.77 479.55,368.81 479.73,367.85 479.90,366.89 480.08,365.93 480.25,364.98 480.43,364.03 480.60,363.10 480.78,362.11 480.96,361.11 481.13,360.10 481.31,359.08 481.48,358.07 481.65,357.05 481.82,356.04 482.00,355.03 482.17,354.03 482.35,353.04 482.53,352.07 482.72,351.12 482.91,350.19 483.10,349.28 483.30,348.40 483.53,347.34 483.75,346.29 483.96,345.24 484.16,344.20 484.38,343.20 484.62,342.24 484.90,341.33 485.21,340.48 485.57,339.70 486.00,339.00 486.65,338.28 487.39,337.73 488.20,337.26 489.03,336.82 489.85,336.32 490.60,335.70 491.21,335.02 491.79,334.26 492.34,333.44 492.89,332.59 493.44,331.73 494.00,330.87 494.58,330.06 495.20,329.30 495.84,328.57 496.51,327.80 497.21,327.02 497.91,326.28 498.63,325.60 499.33,325.02 500.03,324.57 500.70,324.30 501.60,324.23 502.47,324.42 503.36,324.75 504.30,325.10 505.15,325.41 506.04,325.79 506.95,326.21 507.89,326.64 508.84,327.05 509.80,327.40 510.65,327.67 511.49,327.93 512.34,328.17 513.21,328.39 514.13,328.58 515.12,328.76 516.20,328.90 516.97,328.98 517.80,329.05 518.68,329.10 519.60,329.15 520.57,329.18 521.56,329.21 522.58,329.22 523.62,329.23 524.67,329.22 525.71,329.21 526.76,329.19 527.79,329.16 528.80,329.12 529.78,329.08 530.73,329.02 531.64,328.97 532.50,328.90 533.58,328.79 534.64,328.65 535.66,328.49 536.66,328.31 537.63,328.12 538.58,327.93 539.51,327.74 540.42,327.57 541.32,327.42 542.20,327.30 543.21,327.21 544.19,327.18 545.14,327.17 546.07,327.15 546.97,327.10 547.85,327.00 548.70,326.80 549.58,326.48 550.42,326.09 551.23,325.63 552.03,325.14 552.81,324.62 553.60,324.10 554.40,323.55 555.17,322.98 555.93,322.38 556.71,321.77 557.53,321.14 558.40,320.50 559.12,320.02 559.88,319.53 560.68,319.04 561.51,318.55 562.35,318.04 563.19,317.53 564.02,317.00 564.82,316.45 565.59,315.89 566.30,315.30 567.00,314.66 567.66,314.00 568.30,313.31 568.91,312.60 569.50,311.89 570.08,311.17 570.66,310.44 571.23,309.72 571.80,309.00 572.42,308.23 573.03,307.47 573.63,306.70 574.22,305.93 574.81,305.16 575.38,304.36 575.94,303.54 576.50,302.70 576.97,301.94 577.43,301.15 577.87,300.35 578.30,299.54 578.73,298.71 579.17,297.87 579.60,297.03 580.05,296.18 580.52,295.34 581.00,294.50 581.47,293.74 581.96,292.98 582.48,292.22 583.02,291.46 583.56,290.69 584.10,289.93 584.63,289.15 585.15,288.37 585.64,287.59 586.10,286.80 586.53,286.00 586.90,285.20 587.26,284.28 587.58,283.35 587.85,282.40 588.08,281.45 588.29,280.49 588.49,279.53 588.68,278.57 588.87,277.61 589.07,276.65 589.30,275.70 589.30,275.70 591.30,259.90 592.50,283.70 593.20,330.00 593.80,395.00 595.20,432.40 597.20,454.90 678.50,454.90" fill="none" stroke="#ff0000" stroke-width="2.0" stroke-linejoin="round" stroke-linecap="butt" />
<polyline points="393.50,454.90 439.00,454.90 439.00,454.90 439.88,454.82 440.78,454.75 441.68,454.69 442.58,454.63 443.47,454.55 444.34,454.46 445.19,454.35 446.00,454.20 446.89,454.01 447.73,453.81 448.55,453.58 449.36,453.31 450.17,452.99 451.00,452.60 451.78,452.18 452.59,451.70 453.39,451.17 454.21,450.60 455.01,449.99 455.80,449.35 456.56,448.69 457.30,448.00 457.97,447.33 458.63,446.64 459.27,445.93 459.89,445.19 460.49,444.42 461.09,443.62 461.67,442.78 462.24,441.91 462.80,441.00 463.23,440.24 463.65,439.44 464.06,438.61 464.46,437.75 464.84,436.86 465.22,435.95 465.60,435.03 465.97,434.10 466.33,433.16 466.70,432.21 467.07,431.27 467.44,430.34 467.82,429.41 468.20,428.50 468.57,427.64 468.93,426.78 469.30,425.92 469.67,425.06 470.04,424.20 470.40,423.33 470.77,422.47 471.14,421.60 471.51,420.73 471.87,419.86 472.24,418.99 472.61,418.12 472.97,417.25 473.34,416.38 473.70,415.50 474.07,414.61 474.44,413.72 474.81,412.82 475.17,411.93 475.54,411.03 475.91,410.13 476.28,409.23 476.64,408.33 477.01,407.43 477.37,406.52 477.74,405.62 478.10,404.72 478.47,403.81 478.84,402.91 479.20,402.00 479.57,401.06 479.95,400.07 480.33,399.06 480.72,398.01 481.11,396.96 481.50,395.91 481.88,394.86 482.26,393.84 482.64,392.85 483.01,391.90 483.37,391.01 483.72,390.18 484.06,389.43 484.39,388.77 484.70,388.20 485.28,387.19 485.82,386.43 486.50,386.00 487.26,385.99 488.14,386.28 489.08,386.67 490.00,387.00 490.95,387.29 491.91,387.59 492.87,387.83 493.80,387.90 494.60,387.75 495.35,387.44 496.13,387.09 497.00,386.80 497.87,386.62 498.81,386.46 499.80,386.32 500.83,386.20 501.87,386.10 502.90,386.00 503.83,385.93 504.77,385.87 505.71,385.83 506.67,385.80 507.65,385.77 508.66,385.74 509.70,385.70 510.61,385.68 511.55,385.67 512.52,385.68 513.51,385.69 514.51,385.69 515.52,385.68 516.53,385.65 517.53,385.58 518.53,385.46 519.50,385.30 520.40,385.10 521.30,384.86 522.21,384.59 523.11,384.29 524.01,383.97 524.90,383.62 525.78,383.26 526.66,382.88 527.52,382.49 528.37,382.10 529.20,381.70 530.05,381.25 530.88,380.76 531.70,380.24 532.49,379.70 533.28,379.15 534.07,378.61 534.86,378.10 535.66,377.61 536.47,377.18 537.30,376.80 538.19,376.49 539.08,376.25 539.98,376.07 540.89,375.92 541.81,375.78 542.73,375.63 543.65,375.45 544.58,375.21 545.50,374.90 546.30,374.58 547.11,374.22 547.92,373.84 548.73,373.43 549.55,373.00 550.37,372.55 551.18,372.07 552.00,371.58 552.81,371.08 553.61,370.56 554.41,370.04 555.20,369.50 555.98,368.96 556.76,368.40 557.54,367.81 558.32,367.21 559.10,366.60 559.87,365.97 560.64,365.34 561.39,364.69 562.13,364.04 562.86,363.38 563.56,362.72 564.24,362.06 564.90,361.40 565.58,360.70 566.24,360.01 566.88,359.31 567.51,358.62 568.12,357.91 568.70,357.20 569.28,356.47 569.83,355.71 570.37,354.94 570.89,354.14 571.40,353.30 571.83,352.53 572.25,351.73 572.65,350.91 573.04,350.07 573.41,349.21 573.77,348.34 574.12,347.45 574.45,346.55 574.78,345.64 575.10,344.73 575.41,343.82 575.71,342.91 576.01,342.00 576.30,341.10 576.59,340.19 576.86,339.27 577.13,338.33 577.38,337.39 577.63,336.44 577.86,335.50 578.09,334.55 578.31,333.60 578.53,332.66 578.73,331.72 578.93,330.80 579.13,329.88 579.32,328.98 579.50,328.10 579.69,327.14 579.87,326.19 580.04,325.26 580.19,324.34 580.34,323.43 580.49,322.52 580.62,321.62 580.76,320.72 580.90,319.82 581.05,318.91 581.20,318.00 581.20,318.00 585.40,260.00 585.90,260.00 586.60,320.00 587.50,395.00 588.20,454.90 678.50,454.90" fill="none" stroke="#a2142f" stroke-width="2.0" stroke-linejoin="round" stroke-linecap="butt" />
<path d="M600.5,373.5 L631,399 C634,404 640,406.8 648,406.8 C658,406.8 666,403 669.5,396.5 L667.5,395 Z" fill="#0010d0"/>
<polygon points="602.30,372.80 603.75,372.80 632.02,396.48 630.50,396.50" fill="#000bd0"/>
<polygon points="603.02,372.80 604.47,372.80 632.78,396.47 631.26,396.49" fill="#0012e0"/>
<polygon points="603.75,372.80 605.20,372.80 633.54,396.46 632.02,396.48" fill="#0019ef"/>
<polygon points="604.47,372.80 605.92,372.80 634.30,396.45 632.78,396.47" fill="#0020ff"/>
<polygon points="605.20,372.80 606.64,372.80 635.06,396.44 633.54,396.46" fill="#004bff"/>
<polygon points="605.92,372.80 607.37,372.80 635.82,396.43 634.30,396.45" fill="#0075ff"/>
<polygon points="606.64,372.80 608.09,372.80 636.58,396.42 635.06,396.44" fill="#00a0ff"/>
<polygon points="607.37,372.80 608.82,372.80 637.34,396.41 635.82,396.43" fill="#0bbbf5"/>
<polygon points="608.09,372.80 609.54,372.80 638.10,396.40 636.58,396.42" fill="#15d5ea"/>
<polygon points="608.82,372.80 610.26,372.80 638.86,396.39 637.34,396.41" fill="#20f0e0"/>
<polygon points="609.54,372.80 610.99,372.80 639.62,396.38 638.10,396.40" fill="#53f6a6"/>
<polygon points="610.26,372.80 611.71,372.80 640.38,396.37 638.86,396.39" fill="#86fc6d"/>
<polygon points="610.99,372.80 612.44,372.80 641.14,396.36 639.62,396.38" fill="#b3f940"/>
<polygon points="611.71,372.80 613.16,372.80 641.90,396.35 640.38,396.37" fill="#d9ec20"/>
<polygon points="612.44,372.80 613.88,372.80 642.66,396.34 641.14,396.36" fill="#ffe000"/>
<polygon points="613.16,372.80 614.61,372.80 643.42,396.33 641.90,396.35" fill="#ffc900"/>
<polygon points="613.88,372.80 615.33,372.80 644.18,396.32 642.66,396.34" fill="#ffb300"/>
<polygon points="614.61,372.80 616.06,372.80 644.94,396.31 643.42,396.33" fill="#ff9c00"/>
<polygon points="615.33,372.80 616.78,372.80 645.70,396.30 644.18,396.32" fill="#fe9700"/>
<polygon points="616.06,372.80 617.50,372.80 646.46,396.29 644.94,396.31" fill="#fc9200"/>
<polygon points="616.78,372.80 618.23,372.80 647.22,396.28 645.70,396.30" fill="#fb8e00"/>
<polygon points="617.50,372.80 618.95,372.80 647.98,396.27 646.46,396.29" fill="#f98900"/>
<polygon points="618.23,372.80 619.68,372.80 648.74,396.26 647.22,396.28" fill="#f88400"/>
<polygon points="618.95,372.80 620.40,372.80 649.50,396.25 647.98,396.27" fill="#f88400"/>
<polygon points="619.68,372.80 621.12,372.80 650.26,396.24 648.74,396.26" fill="#f88400"/>
<polygon points="620.40,372.80 621.85,372.80 651.02,396.23 649.50,396.25" fill="#f88400"/>
<polygon points="621.12,372.80 622.57,372.80 651.78,396.22 650.26,396.24" fill="#f88400"/>
<polygon points="621.85,372.80 623.30,372.80 652.54,396.21 651.02,396.23" fill="#f88400"/>
<polygon points="622.57,372.80 624.02,372.80 653.30,396.20 651.78,396.22" fill="#f88400"/>
<polygon points="623.30,372.80 624.74,372.80 654.06,396.19 652.54,396.21" fill="#f88400"/>
<polygon points="624.02,372.80 625.47,372.80 654.82,396.18 653.30,396.20" fill="#f88400"/>
<polygon points="624.74,372.80 626.19,372.80 655.58,396.17 654.06,396.19" fill="#f88400"/>
<polygon points="625.47,372.80 626.92,372.80 656.34,396.16 654.82,396.18" fill="#f88400"/>
<polygon points="626.19,372.80 627.64,372.80 657.10,396.15 655.58,396.17" fill="#f88400"/>
<polygon points="626.92,372.80 628.36,372.80 657.86,396.14 656.34,396.16" fill="#f88400"/>
<polygon points="627.64,372.80 629.09,372.80 658.62,396.13 657.10,396.15" fill="#f98700"/>
<polygon points="628.36,372.80 629.81,372.80 659.38,396.12 657.86,396.14" fill="#fa8c00"/>
<polygon points="629.09,372.80 630.54,372.80 660.14,396.11 658.62,396.13" fill="#fc9200"/>
<polygon points="629.81,372.80 631.26,372.80 660.90,396.10 659.38,396.12" fill="#fd9800"/>
<polygon points="630.54,372.80 631.98,372.80 661.66,396.09 660.14,396.11" fill="#fe9d00"/>
<polygon points="631.26,372.80 632.71,372.80 662.42,396.08 660.90,396.10" fill="#ffab00"/>
<polygon points="631.98,372.80 633.43,372.80 663.18,396.07 661.66,396.09" fill="#ffc000"/>
<polygon points="632.71,372.80 634.16,372.80 663.94,396.06 662.42,396.08" fill="#ffd500"/>
<polygon points="633.43,372.80 634.88,372.80 664.70,396.05 663.18,396.07" fill="#dfea1b"/>
<polygon points="634.16,372.80 635.60,372.80 665.46,396.04 663.94,396.06" fill="#a0ff50"/>
<polygon points="634.88,372.80 636.33,372.80 666.22,396.03 664.70,396.05" fill="#4bf5b0"/>
<polygon points="635.60,372.80 637.05,372.80 666.98,396.02 665.46,396.04" fill="#15d5ea"/>
<polygon points="636.33,372.80 637.78,372.80 667.74,396.01 666.22,396.03" fill="#00a0ff"/>
<polygon points="637.05,372.80 638.50,372.80 668.50,396.00 666.98,396.02" fill="#004bff"/>
<polygon points="637.78,372.80 638.50,372.80 668.50,396.00 667.74,396.01" fill="#0014e4"/>
<path d="M630.5,396.5 A19,9.6 0 0 0 668.5,396 Z" fill="url(#pd)"/>
<text x="639.5" y="424.7" font-size="12.3" text-anchor="middle" font-weight="normal" >Solidified</text>
<text x="639.5" y="439.2" font-size="12.3" text-anchor="middle" font-weight="normal" >volume</text>
<line x1="405" y1="271.6" x2="421" y2="271.6" stroke="#0000ff" stroke-width="3" stroke-linecap="round"/>
<text x="428" y="275.6" font-size="12.4">1 mm s<tspan font-size="8" dx="-0.2" dy="-6.0">-1</tspan></text>
<line x1="405" y1="289.3" x2="421" y2="289.3" stroke="#00ffff" stroke-width="3" stroke-linecap="round"/>
<text x="428" y="293.3" font-size="12.4">10 mm s<tspan font-size="8" dx="-0.2" dy="-6.0">-1</tspan></text>
<line x1="405" y1="307.0" x2="421" y2="307.0" stroke="#77ac30" stroke-width="3" stroke-linecap="round"/>
<text x="428" y="311.0" font-size="12.4">50 mm s</text>
<line x1="601.4" y1="271.9" x2="614" y2="271.9" stroke="#edb120" stroke-width="3" stroke-linecap="round"/>
<text x="616.2" y="275.9" font-size="12.4">100 mm s<tspan font-size="8" dx="-0.2" dy="-6.0">-1</tspan></text>
<line x1="601.4" y1="289.59999999999997" x2="614" y2="289.59999999999997" stroke="#ff0000" stroke-width="3" stroke-linecap="round"/>
<text x="616.2" y="293.59999999999997" font-size="12.4">200 mm s<tspan font-size="8" dx="-0.2" dy="-6.0">-1</tspan></text>
<line x1="601.4" y1="307.29999999999995" x2="614" y2="307.29999999999995" stroke="#a2142f" stroke-width="3" stroke-linecap="round"/>
<text x="616.2" y="311.29999999999995" font-size="12.4">500 mm s<tspan font-size="8" dx="-0.2" dy="-6.0">-1</tspan></text>
<text x="395.4" y="471.3" font-size="13" text-anchor="middle" font-weight="normal" >0</text>
<text x="450.6" y="471.3" font-size="13" text-anchor="middle" font-weight="normal" >0.2</text>
<text x="507.5" y="471.3" font-size="13" text-anchor="middle" font-weight="normal" >0.4</text>
<text x="564.4" y="471.3" font-size="13" text-anchor="middle" font-weight="normal" >0.6</text>
<text x="621.3" y="471.3" font-size="13" text-anchor="middle" font-weight="normal" >0.8</text>
<text x="680.2" y="471.3" font-size="13" text-anchor="middle" font-weight="normal" >1</text>
<text x="374.0" y="458.6" font-size="13" text-anchor="start" font-weight="normal" >0</text>
<text x="389" y="421.6" font-size="13" text-anchor="end" font-weight="normal" >0.2</text>
<text x="389" y="382.7" font-size="13" text-anchor="end" font-weight="normal" >0.4</text>
<text x="389" y="343.8" font-size="13" text-anchor="end" font-weight="normal" >0.6</text>
<text x="389" y="304.9" font-size="13" text-anchor="end" font-weight="normal" >0.8</text>
<text x="373.6" y="265.9" font-size="13" text-anchor="start" font-weight="normal" >1</text>
<text x="535.3" y="489.6" font-size="13.7" text-anchor="middle" font-weight="normal" >Ge molar fraction <tspan font-style="italic">x</tspan> (mol)</text>
<text transform="translate(360,364) rotate(-90)" text-anchor="middle" font-size="13.7">Volume distribution</text>
<text x="350.7" y="267.3" font-size="16.5" text-anchor="start" font-weight="bold" >d</text>
</svg></body></html>
